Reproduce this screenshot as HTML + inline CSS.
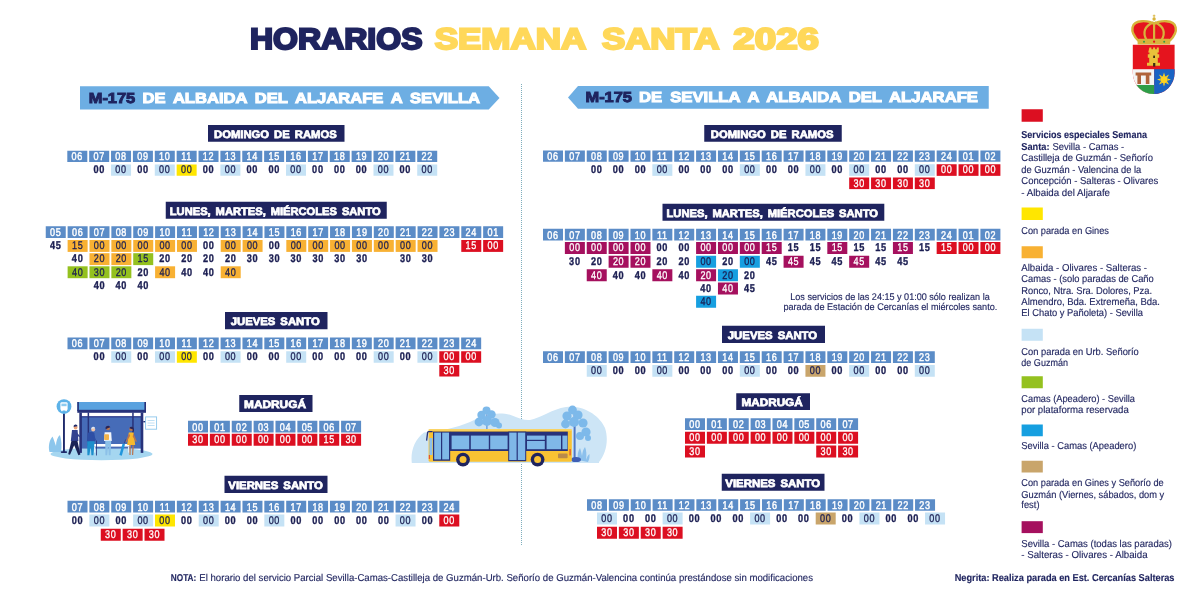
<!DOCTYPE html>
<html lang="es"><head><meta charset="utf-8"><title>Horarios Semana Santa 2026</title>
<style>
html,body{margin:0;padding:0;background:#fff;}
body{width:1200px;height:600px;overflow:hidden;position:relative;}
svg{position:absolute;left:0;top:0;display:block;}
text{font-family:"Liberation Sans",sans-serif;text-rendering:geometricPrecision;}
.b{word-spacing:3px;stroke-width:1.0px;stroke:#fff;}
.b.bn{stroke:#1f245f}
.t{stroke:#fff;stroke-width:.75px;word-spacing:1.8px}
.big{stroke:#1f245f;stroke-width:2.2px;stroke-linejoin:miter;}
.big.y{stroke:#ffd85a}
.h{stroke:#fff;stroke-width:.45px;letter-spacing:.8px}
.d{stroke-width:.35px;letter-spacing:.8px}
.dr{stroke-width:.3px;letter-spacing:.8px}
.n{stroke:#1f245f;stroke-width:.15px}
</style></head><body>
<svg width="1200" height="600" viewBox="0 0 1200 600">
<line x1="521.5" y1="84" x2="521.5" y2="545" stroke="#7eaebd" stroke-width="1" stroke-dasharray="1 1"/>
<!-- bus stop illustration -->
<g id="busstop">
<ellipse cx="101.5" cy="454" rx="51" ry="6.2" fill="#a5d6f0"/>
<path d="M49.5,452 C48,446 49.5,440 52.5,436.5 C54,440 55,443 56,446 C56,441 57.5,437 60,435 C61.5,440 62,446 61,452 Z" fill="#8cc6ec"/>
<rect x="63" y="413" width="1.9" height="39.5" fill="#1f2a6b"/>
<rect x="60.8" y="451.2" width="6.3" height="1.8" rx="0.9" fill="#1f2a6b"/>
<circle cx="64" cy="406.6" r="7.4" fill="#5cb2e8"/>
<rect x="60.4" y="402.2" width="7.2" height="8.2" rx="1.4" fill="#fff"/>
<rect x="61.4" y="403.6" width="5.2" height="2.6" fill="#8ccbf0"/>
<rect x="61.2" y="410" width="1.4" height="1.2" fill="#fff"/><rect x="65.4" y="410" width="1.4" height="1.2" fill="#fff"/>
<!-- shelter -->
<rect x="80" y="416" width="62.7" height="32.6" fill="#466cb8"/>
<rect x="80" y="416" width="62.7" height="1.5" fill="#2f3f8f"/>
<rect x="80" y="412.5" width="62.7" height="3.6" fill="#fff"/>
<rect x="77.3" y="402" width="68.7" height="8.4" fill="#5aa2df"/>
<rect x="77.3" y="409.8" width="68.7" height="3" fill="#27327a"/>
<rect x="77.3" y="402" width="1.6" height="9" fill="#27327a"/><rect x="144.4" y="402" width="1.6" height="9" fill="#27327a"/>
<rect x="79.3" y="412.5" width="2.6" height="40.4" fill="#27327a"/>
<rect x="140.7" y="412.5" width="2.6" height="40.4" fill="#27327a"/>
<rect x="87.6" y="412.5" width="1.5" height="33" fill="#27327a"/>
<rect x="132.2" y="412.5" width="1.5" height="33" fill="#27327a"/>
<rect x="92.7" y="444" width="38" height="2.6" fill="#fff"/>
<rect x="94" y="446.6" width="1.4" height="6" fill="#dfeefa"/><rect x="128" y="446.6" width="1.4" height="6" fill="#dfeefa"/>
<!-- timetable sign -->
<rect x="143.3" y="421" width="3" height="1.4" fill="#27327a"/>
<rect x="145.6" y="416.9" width="11" height="12.3" fill="#fff" stroke="#8cc6ec" stroke-width="0.9"/>
<path d="M147.6,420.5h7M147.6,423h7M147.6,425.5h7" stroke="#b9dcf3" stroke-width="0.9"/>
<g transform="translate(0 1.9)">
<!-- man 1 navy suit -->
<circle cx="75.6" cy="425.6" r="1.9" fill="#e9a37b"/><path d="M73.6,425 a2,2 0 0 1 4,-0.6 l-2,0.2z" fill="#1f2a6b"/>
<path d="M72,428.2 h5.6 l0.8,11 h-7.6z" fill="#33418f"/>
<path d="M77,431 l3.4,3.4 l-0.8,1 l-3.4,-2.4z" fill="#33418f"/>
<path d="M71.4,439 l-3.2,13.4 l1.8,0.5 l4.2,-9.5 l4.2,9.9 l2,-0.6 l-3,-13.8z" fill="#1b2255"/>
<!-- old man -->
<circle cx="93.2" cy="427.6" r="2" fill="#f1c5a8"/><path d="M91.2,427.2 a2.1,2.1 0 0 1 4.1,-0.8z" fill="#dfe7f2"/>
<path d="M88,431 c1,-1.2 5.4,-1.4 6.4,0 l0.8,8.6 h-8.4z" fill="#2e4fa5"/>
<path d="M94,433 l2,5.2 l-1.2,0.6 l-2.2,-4.4z" fill="#2e4fa5"/>
<path d="M87.2,439.4 h7.4 l-1.2,14 h-2 l-0.6,-9.6 l-1.4,9.6 h-2z" fill="#1d8fcc"/>
<rect x="96" y="438.6" width="0.8" height="15" fill="#27327a"/>
<!-- woman with bag -->
<circle cx="108" cy="426.4" r="2" fill="#b87550"/><path d="M105.8,427.4 a2.4,2.4 0 0 1 4.6,-2 l-2.2,0.6z" fill="#2a2456"/>
<path d="M104.6,430.4 h6.6 l0.6,8.6 h-7.8z" fill="#f2f5fa"/>
<rect x="104.2" y="432.4" width="4.8" height="5.8" rx="0.8" fill="#f1b24a"/>
<path d="M105.2,438.8 h6 l-0.6,14.6 h-1.8 l-0.6,-10 l-1,10 h-1.8z" fill="#8cc0e8"/>
<!-- woman yellow dress -->
<circle cx="131.2" cy="427" r="2" fill="#b87550"/><path d="M129.4,426.4 a2.3,2.3 0 0 1 4.4,0.4 l0.2,3.2 l-1.6,-2.6z" fill="#2a2456"/>
<path d="M128.8,430.6 h4.8 l1.6,12.6 h-8z" fill="#f7b92e"/>
<path d="M129,431.4 l-3.4,8.4 l0.9,0.5 l3.6,-6.4zM133.4,431.4 l3.4,8.2 l-0.9,0.5 l-3.2,-5.6z" fill="#b87550"/>
<path d="M129.4,443 h1.4 l-0.2,10 h-1.2zM132.4,443 h1.4 l-0.6,10 h-1.2z" fill="#b87550"/>
<path d="M122.6,441.6 l2.4,0.8 l-3.2,11.4 l-2.4,-0.8z" fill="#2196dc"/>
<path d="M124.2,441.4 l1.6,-4" stroke="#27327a" stroke-width="0.6"/>
</g>
</g>
<!-- bus illustration -->
<g id="bus">
<path d="M411.8,463 C410.5,452 414,440 424,432.5 C440,431 456,428 470,422 C484,414 500,411 512,415.5 C519,418 524,420.5 530,420 C540,418.5 552,409 566,407 C584,404.5 600,416 605,428 C609,440 606,454 599,462 L599,463 Z" fill="#cde5f6"/>
<!-- left tree -->
<rect x="486.3" y="412" width="1.2" height="18" fill="#5c8fd0"/>
<g fill="#7db9ea"><circle cx="486.5" cy="410.5" r="4"/><circle cx="481.5" cy="415" r="4.2"/><circle cx="491.5" cy="414.5" r="4.2"/><circle cx="479" cy="422" r="4.4"/><circle cx="487" cy="421" r="5"/><circle cx="495" cy="422.5" r="4.6"/><circle cx="499" cy="425.5" r="3"/></g>
<!-- right tree -->
<rect x="573.6" y="414" width="2" height="48" fill="#4f77c4"/>
<g fill="#7db9ea"><circle cx="572.5" cy="410" r="4.4"/><circle cx="567" cy="416" r="4.6"/><circle cx="578" cy="415" r="4.6"/><circle cx="565.5" cy="424" r="4.4"/><circle cx="574" cy="422" r="5"/><circle cx="583" cy="423" r="4.6"/><circle cx="586" cy="432" r="4.6"/><circle cx="580" cy="436" r="4"/><circle cx="588" cy="438" r="3"/></g>
<path d="M578,460 c-1,-5 0,-9 2,-12 c1,3 1.6,5 2,8 c0.4,-4 1.4,-7 3,-9 c1.4,3 1.8,8 1,13 c1,-3 2,-5 3.4,-6 c0.4,3 0,5 -1.4,8z" fill="#8cc0ec"/>
<ellipse cx="576" cy="459.5" rx="5" ry="2.6" fill="#3f5fb5"/>
<!-- body -->
<rect x="428.6" y="429.2" width="143.2" height="32.6" rx="1.6" fill="#f9c233"/>
<rect x="428.6" y="429.2" width="143.2" height="1.6" fill="#fbd567"/>
<path d="M432.6,431.6 h-4 a1,1 0 0 0 -1,1 l-1,8" fill="none" stroke="#27327a" stroke-width="1.3"/>
<rect x="429.4" y="438" width="3" height="17" fill="#8cc0ec"/>
<rect x="450" y="431.6" width="117.8" height="19.4" fill="#27327a"/>
<g fill="#7fb8e8">
<rect x="451.6" y="435.6" width="17.6" height="13.6"/><rect x="470.8" y="435.6" width="18" height="13.6"/><rect x="490.2" y="435.6" width="17.4" height="13.6"/>
<rect x="527" y="435.6" width="17.8" height="4.2"/><rect x="527" y="441" width="17.8" height="8.2"/><rect x="546.6" y="435.6" width="14.4" height="13.6"/><rect x="562.4" y="435.6" width="5" height="13.6"/>
</g>
<rect x="433" y="431.6" width="17.2" height="29.2" fill="#27327a"/>
<rect x="434.2" y="432.6" width="6.8" height="26.8" fill="#7fb8e8"/><rect x="442.2" y="432.6" width="6.8" height="26.8" fill="#7fb8e8"/>
<rect x="508.2" y="431.6" width="18" height="29.6" fill="#27327a"/>
<rect x="509.2" y="432.6" width="7.4" height="27.4" fill="#7fb8e8"/><rect x="517.8" y="432.6" width="7.4" height="27.4" fill="#7fb8e8"/>
<rect x="558" y="453.6" width="9.6" height="4.6" rx="0.8" fill="#b98a4a"/>
<rect x="569.4" y="449" width="1.4" height="6.4" fill="#e8562a"/>
<rect x="428.8" y="455" width="1.2" height="4" fill="#e8562a"/>
<circle cx="463" cy="459.6" r="6.9" fill="#1f245f"/><circle cx="463" cy="459.6" r="3.5" fill="#f9c233"/>
<circle cx="537.6" cy="459.6" r="6.9" fill="#1f245f"/><circle cx="537.6" cy="459.6" r="3.5" fill="#f9c233"/>
</g>
<!-- coat of arms -->
<g id="escudo">
<path d="M1132.8,44.7 h41.8 v28.4 a20.9,20.9 0 0 1 -41.8,0z" fill="#e5141e"/>
<clipPath id="shc"><path d="M1132.8,44.7 h41.8 v28.4 a20.9,20.9 0 0 1 -41.8,0z"/></clipPath>
<g clip-path="url(#shc)">
<rect x="1132.5" y="69.2" width="21.7" height="26" fill="#f4f4f4"/>
<rect x="1132.5" y="85" width="21.7" height="10" fill="#2f9e48"/>
<rect x="1154.2" y="69.2" width="21" height="26" fill="#1a63c4"/>
<path d="M1135.6,72.4 h15.6 v3.2 h-15.6z M1137.4,75.6 h3.6 v8.4 h-3.6z M1145.8,75.6 h3.6 v8.4 h-3.6z" fill="#b0623a"/>
<circle cx="1164" cy="79.6" r="3.6" fill="#ffd21f"/>
<path d="M1164,72.6 l1.1,3.4 h-2.2z M1164,86.6 l1.1,-3.4 h-2.2z M1157,79.6 l3.4,-1.1 v2.2z M1171,79.6 l-3.4,-1.1 v2.2z M1159,74.6 l3.2,1.7 l-1.5,1.5z M1169,74.6 l-3.2,1.7 l1.5,1.5z M1159,84.6 l3.2,-1.7 l-1.5,-1.5z M1169,84.6 l-3.2,-1.7 l1.5,-1.5z" fill="#ffd21f"/>
</g>
<path d="M1149.4,47.6 h2 v1.6 h1.7 v-1.6 h2 v1.6 h1.7 v-1.6 h2 v5 h-1.2 v1.6 h1.6 v3.6 h-1.4 v5 h2.2 v3 h-13 v-3 h2.2 v-5 h-1.4 v-3.6 h1.6 v-1.6 h-1.2z" fill="#e9c13a"/>
<rect x="1153.1" y="63" width="2.2" height="3.6" fill="#3a2a10"/><rect x="1153.2" y="55.6" width="1.8" height="2.4" fill="#3a2a10"/>
<!-- crown -->
<path d="M1138.2,40.5 C1129,31 1131,21.5 1142,21.2 C1147,21 1151.5,22 1154.1,24 C1156.7,22 1161.2,21 1166.2,21.2 C1177.2,21.5 1179.2,31 1170,40.5 Z" fill="#e5141e" stroke="#d8b43c" stroke-width="2.4" stroke-linejoin="round"/>
<path d="M1154.1,22 v18 M1146.6,40 C1142.5,33 1144,26 1153.6,22.4 M1161.6,40 C1165.7,33 1164.2,26 1154.6,22.4" fill="none" stroke="#d8b43c" stroke-width="2.2"/>
<rect x="1137.6" y="38.8" width="32.6" height="5.8" rx="1.2" fill="#d8b43c"/>
<g fill="#2f9e48"><circle cx="1144" cy="41.7" r="1"/><circle cx="1164.2" cy="41.7" r="1"/></g><circle cx="1154.1" cy="41.7" r="1.1" fill="#e5141e"/>
<circle cx="1154.1" cy="19" r="1.7" fill="#d8b43c"/><path d="M1154.1,14.6 v3 M1152.8,15.8 h2.6" stroke="#d8b43c" stroke-width="0.9"/>
</g>

<text x="250.00" y="49.00" font-size="29.8" fill="#1f245f" font-weight="bold" text-anchor="start" textLength="172.50" lengthAdjust="spacingAndGlyphs" class="big">HORARIOS</text>
<text x="434.70" y="49.00" font-size="29.8" fill="#ffd85a" font-weight="bold" text-anchor="start" textLength="151.60" lengthAdjust="spacingAndGlyphs" class="big y">SEMANA</text>
<text x="602.00" y="49.00" font-size="29.8" fill="#ffd85a" font-weight="bold" text-anchor="start" textLength="117.30" lengthAdjust="spacingAndGlyphs" class="big y">SANTA</text>
<text x="733.30" y="49.00" font-size="29.8" fill="#ffd85a" font-weight="bold" text-anchor="start" textLength="85.70" lengthAdjust="spacingAndGlyphs" class="big y">2026</text>
<polygon points="80,86.25 488.75,86.25 499.5,97.9 488.75,109.5 80,109.5" fill="#6daee3"/>
<text x="88.75" y="103.30" font-size="14.7" fill="#1f245f" font-weight="bold" text-anchor="start" textLength="46.50" lengthAdjust="spacingAndGlyphs" class="b bn">M-175</text>
<text x="142.50" y="103.30" font-size="14.7" fill="#fff" font-weight="bold" text-anchor="start" textLength="337.50" lengthAdjust="spacingAndGlyphs" class="b">DE ALBAIDA DEL ALJARAFE A SEVILLA</text>
<polygon points="988.75,86 578,86 568,97.4 578,108.75 988.75,108.75" fill="#6daee3"/>
<text x="585.50" y="102.30" font-size="14.7" fill="#1f245f" font-weight="bold" text-anchor="start" textLength="46.50" lengthAdjust="spacingAndGlyphs" class="b bn">M-175</text>
<text x="639.00" y="102.30" font-size="14.7" fill="#fff" font-weight="bold" text-anchor="start" textLength="339.00" lengthAdjust="spacingAndGlyphs" class="b">DE SEVILLA A ALBAIDA DEL ALJARAFE</text>
<rect x="208.00" y="125.00" width="136.50" height="16.75" fill="#1f245f" />
<text x="214.05" y="137.83" font-size="10.9" fill="#fff" font-weight="bold" text-anchor="start" textLength="122.65" lengthAdjust="spacingAndGlyphs" class="t">DOMINGO DE RAMOS</text>
<rect x="67.30" y="150.75" width="20.00" height="11.25" fill="#5b8cc7" />
<text transform="translate(77.30 160.32) scale(0.81 1)" font-size="11.2" fill="#fff" font-weight="normal" text-anchor="middle" class="h">06</text>
<rect x="89.17" y="150.75" width="20.00" height="11.25" fill="#5b8cc7" />
<text transform="translate(99.17 160.32) scale(0.81 1)" font-size="11.2" fill="#fff" font-weight="normal" text-anchor="middle" class="h">07</text>
<rect x="111.04" y="150.75" width="20.00" height="11.25" fill="#5b8cc7" />
<text transform="translate(121.04 160.32) scale(0.81 1)" font-size="11.2" fill="#fff" font-weight="normal" text-anchor="middle" class="h">08</text>
<rect x="132.91" y="150.75" width="20.00" height="11.25" fill="#5b8cc7" />
<text transform="translate(142.91 160.32) scale(0.81 1)" font-size="11.2" fill="#fff" font-weight="normal" text-anchor="middle" class="h">09</text>
<rect x="154.78" y="150.75" width="20.00" height="11.25" fill="#5b8cc7" />
<text transform="translate(164.78 160.32) scale(0.81 1)" font-size="11.2" fill="#fff" font-weight="normal" text-anchor="middle" class="h">10</text>
<rect x="176.65" y="150.75" width="20.00" height="11.25" fill="#5b8cc7" />
<text transform="translate(186.65 160.32) scale(0.81 1)" font-size="11.2" fill="#fff" font-weight="normal" text-anchor="middle" class="h">11</text>
<rect x="198.52" y="150.75" width="20.00" height="11.25" fill="#5b8cc7" />
<text transform="translate(208.52 160.32) scale(0.81 1)" font-size="11.2" fill="#fff" font-weight="normal" text-anchor="middle" class="h">12</text>
<rect x="220.39" y="150.75" width="20.00" height="11.25" fill="#5b8cc7" />
<text transform="translate(230.39 160.32) scale(0.81 1)" font-size="11.2" fill="#fff" font-weight="normal" text-anchor="middle" class="h">13</text>
<rect x="242.26" y="150.75" width="20.00" height="11.25" fill="#5b8cc7" />
<text transform="translate(252.26 160.32) scale(0.81 1)" font-size="11.2" fill="#fff" font-weight="normal" text-anchor="middle" class="h">14</text>
<rect x="264.13" y="150.75" width="20.00" height="11.25" fill="#5b8cc7" />
<text transform="translate(274.13 160.32) scale(0.81 1)" font-size="11.2" fill="#fff" font-weight="normal" text-anchor="middle" class="h">15</text>
<rect x="286.00" y="150.75" width="20.00" height="11.25" fill="#5b8cc7" />
<text transform="translate(296.00 160.32) scale(0.81 1)" font-size="11.2" fill="#fff" font-weight="normal" text-anchor="middle" class="h">16</text>
<rect x="307.87" y="150.75" width="20.00" height="11.25" fill="#5b8cc7" />
<text transform="translate(317.87 160.32) scale(0.81 1)" font-size="11.2" fill="#fff" font-weight="normal" text-anchor="middle" class="h">17</text>
<rect x="329.74" y="150.75" width="20.00" height="11.25" fill="#5b8cc7" />
<text transform="translate(339.74 160.32) scale(0.81 1)" font-size="11.2" fill="#fff" font-weight="normal" text-anchor="middle" class="h">18</text>
<rect x="351.61" y="150.75" width="20.00" height="11.25" fill="#5b8cc7" />
<text transform="translate(361.61 160.32) scale(0.81 1)" font-size="11.2" fill="#fff" font-weight="normal" text-anchor="middle" class="h">19</text>
<rect x="373.48" y="150.75" width="20.00" height="11.25" fill="#5b8cc7" />
<text transform="translate(383.48 160.32) scale(0.81 1)" font-size="11.2" fill="#fff" font-weight="normal" text-anchor="middle" class="h">20</text>
<rect x="395.35" y="150.75" width="20.00" height="11.25" fill="#5b8cc7" />
<text transform="translate(405.35 160.32) scale(0.81 1)" font-size="11.2" fill="#fff" font-weight="normal" text-anchor="middle" class="h">21</text>
<rect x="417.22" y="150.75" width="20.00" height="11.25" fill="#5b8cc7" />
<text transform="translate(427.22 160.32) scale(0.81 1)" font-size="11.2" fill="#fff" font-weight="normal" text-anchor="middle" class="h">22</text>
<text transform="translate(99.17 173.43) scale(0.82 1)" font-size="11.2" fill="#1b1e52" font-weight="bold" text-anchor="middle" class="d" stroke="#1b1e52">00</text>
<rect x="111.04" y="164.50" width="20.00" height="11.25" fill="#c5e2f5" />
<text transform="translate(121.04 173.43) scale(0.81 1)" font-size="11.2" fill="#1b1e52" font-weight="normal" text-anchor="middle" class="dr" stroke="#1b1e52">00</text>
<text transform="translate(142.91 173.43) scale(0.82 1)" font-size="11.2" fill="#1b1e52" font-weight="bold" text-anchor="middle" class="d" stroke="#1b1e52">00</text>
<rect x="154.78" y="164.50" width="20.00" height="11.25" fill="#c5e2f5" />
<text transform="translate(164.78 173.43) scale(0.81 1)" font-size="11.2" fill="#1b1e52" font-weight="normal" text-anchor="middle" class="dr" stroke="#1b1e52">00</text>
<rect x="176.65" y="164.50" width="20.00" height="11.25" fill="#ffe600" />
<text transform="translate(186.65 173.43) scale(0.81 1)" font-size="11.2" fill="#1b1e52" font-weight="normal" text-anchor="middle" class="dr" stroke="#1b1e52">00</text>
<text transform="translate(208.52 173.43) scale(0.82 1)" font-size="11.2" fill="#1b1e52" font-weight="bold" text-anchor="middle" class="d" stroke="#1b1e52">00</text>
<rect x="220.39" y="164.50" width="20.00" height="11.25" fill="#c5e2f5" />
<text transform="translate(230.39 173.43) scale(0.81 1)" font-size="11.2" fill="#1b1e52" font-weight="normal" text-anchor="middle" class="dr" stroke="#1b1e52">00</text>
<text transform="translate(252.26 173.43) scale(0.82 1)" font-size="11.2" fill="#1b1e52" font-weight="bold" text-anchor="middle" class="d" stroke="#1b1e52">00</text>
<text transform="translate(274.13 173.43) scale(0.82 1)" font-size="11.2" fill="#1b1e52" font-weight="bold" text-anchor="middle" class="d" stroke="#1b1e52">00</text>
<rect x="286.00" y="164.50" width="20.00" height="11.25" fill="#c5e2f5" />
<text transform="translate(296.00 173.43) scale(0.81 1)" font-size="11.2" fill="#1b1e52" font-weight="normal" text-anchor="middle" class="dr" stroke="#1b1e52">00</text>
<text transform="translate(317.87 173.43) scale(0.82 1)" font-size="11.2" fill="#1b1e52" font-weight="bold" text-anchor="middle" class="d" stroke="#1b1e52">00</text>
<text transform="translate(339.74 173.43) scale(0.82 1)" font-size="11.2" fill="#1b1e52" font-weight="bold" text-anchor="middle" class="d" stroke="#1b1e52">00</text>
<text transform="translate(361.61 173.43) scale(0.82 1)" font-size="11.2" fill="#1b1e52" font-weight="bold" text-anchor="middle" class="d" stroke="#1b1e52">00</text>
<rect x="373.48" y="164.50" width="20.00" height="11.25" fill="#c5e2f5" />
<text transform="translate(383.48 173.43) scale(0.81 1)" font-size="11.2" fill="#1b1e52" font-weight="normal" text-anchor="middle" class="dr" stroke="#1b1e52">00</text>
<text transform="translate(405.35 173.43) scale(0.82 1)" font-size="11.2" fill="#1b1e52" font-weight="bold" text-anchor="middle" class="d" stroke="#1b1e52">00</text>
<rect x="417.22" y="164.50" width="20.00" height="11.25" fill="#c5e2f5" />
<text transform="translate(427.22 173.43) scale(0.81 1)" font-size="11.2" fill="#1b1e52" font-weight="normal" text-anchor="middle" class="dr" stroke="#1b1e52">00</text>
<rect x="165.75" y="201.75" width="221.00" height="17.00" fill="#1f245f" />
<text x="169.80" y="214.70" font-size="10.9" fill="#fff" font-weight="bold" text-anchor="start" textLength="210.90" lengthAdjust="spacingAndGlyphs" class="t">LUNES, MARTES, MIÉRCOLES SANTO</text>
<rect x="45.75" y="226.25" width="20.00" height="11.75" fill="#5b8cc7" />
<text transform="translate(55.75 236.07) scale(0.81 1)" font-size="11.2" fill="#fff" font-weight="normal" text-anchor="middle" class="h">05</text>
<rect x="67.62" y="226.25" width="20.00" height="11.75" fill="#5b8cc7" />
<text transform="translate(77.62 236.07) scale(0.81 1)" font-size="11.2" fill="#fff" font-weight="normal" text-anchor="middle" class="h">06</text>
<rect x="89.49" y="226.25" width="20.00" height="11.75" fill="#5b8cc7" />
<text transform="translate(99.49 236.07) scale(0.81 1)" font-size="11.2" fill="#fff" font-weight="normal" text-anchor="middle" class="h">07</text>
<rect x="111.36" y="226.25" width="20.00" height="11.75" fill="#5b8cc7" />
<text transform="translate(121.36 236.07) scale(0.81 1)" font-size="11.2" fill="#fff" font-weight="normal" text-anchor="middle" class="h">08</text>
<rect x="133.23" y="226.25" width="20.00" height="11.75" fill="#5b8cc7" />
<text transform="translate(143.23 236.07) scale(0.81 1)" font-size="11.2" fill="#fff" font-weight="normal" text-anchor="middle" class="h">09</text>
<rect x="155.10" y="226.25" width="20.00" height="11.75" fill="#5b8cc7" />
<text transform="translate(165.10 236.07) scale(0.81 1)" font-size="11.2" fill="#fff" font-weight="normal" text-anchor="middle" class="h">10</text>
<rect x="176.97" y="226.25" width="20.00" height="11.75" fill="#5b8cc7" />
<text transform="translate(186.97 236.07) scale(0.81 1)" font-size="11.2" fill="#fff" font-weight="normal" text-anchor="middle" class="h">11</text>
<rect x="198.84" y="226.25" width="20.00" height="11.75" fill="#5b8cc7" />
<text transform="translate(208.84 236.07) scale(0.81 1)" font-size="11.2" fill="#fff" font-weight="normal" text-anchor="middle" class="h">12</text>
<rect x="220.71" y="226.25" width="20.00" height="11.75" fill="#5b8cc7" />
<text transform="translate(230.71 236.07) scale(0.81 1)" font-size="11.2" fill="#fff" font-weight="normal" text-anchor="middle" class="h">13</text>
<rect x="242.58" y="226.25" width="20.00" height="11.75" fill="#5b8cc7" />
<text transform="translate(252.58 236.07) scale(0.81 1)" font-size="11.2" fill="#fff" font-weight="normal" text-anchor="middle" class="h">14</text>
<rect x="264.45" y="226.25" width="20.00" height="11.75" fill="#5b8cc7" />
<text transform="translate(274.45 236.07) scale(0.81 1)" font-size="11.2" fill="#fff" font-weight="normal" text-anchor="middle" class="h">15</text>
<rect x="286.32" y="226.25" width="20.00" height="11.75" fill="#5b8cc7" />
<text transform="translate(296.32 236.07) scale(0.81 1)" font-size="11.2" fill="#fff" font-weight="normal" text-anchor="middle" class="h">16</text>
<rect x="308.19" y="226.25" width="20.00" height="11.75" fill="#5b8cc7" />
<text transform="translate(318.19 236.07) scale(0.81 1)" font-size="11.2" fill="#fff" font-weight="normal" text-anchor="middle" class="h">17</text>
<rect x="330.06" y="226.25" width="20.00" height="11.75" fill="#5b8cc7" />
<text transform="translate(340.06 236.07) scale(0.81 1)" font-size="11.2" fill="#fff" font-weight="normal" text-anchor="middle" class="h">18</text>
<rect x="351.93" y="226.25" width="20.00" height="11.75" fill="#5b8cc7" />
<text transform="translate(361.93 236.07) scale(0.81 1)" font-size="11.2" fill="#fff" font-weight="normal" text-anchor="middle" class="h">19</text>
<rect x="373.80" y="226.25" width="20.00" height="11.75" fill="#5b8cc7" />
<text transform="translate(383.80 236.07) scale(0.81 1)" font-size="11.2" fill="#fff" font-weight="normal" text-anchor="middle" class="h">20</text>
<rect x="395.67" y="226.25" width="20.00" height="11.75" fill="#5b8cc7" />
<text transform="translate(405.67 236.07) scale(0.81 1)" font-size="11.2" fill="#fff" font-weight="normal" text-anchor="middle" class="h">21</text>
<rect x="417.54" y="226.25" width="20.00" height="11.75" fill="#5b8cc7" />
<text transform="translate(427.54 236.07) scale(0.81 1)" font-size="11.2" fill="#fff" font-weight="normal" text-anchor="middle" class="h">22</text>
<rect x="439.41" y="226.25" width="20.00" height="11.75" fill="#5b8cc7" />
<text transform="translate(449.41 236.07) scale(0.81 1)" font-size="11.2" fill="#fff" font-weight="normal" text-anchor="middle" class="h">23</text>
<rect x="461.28" y="226.25" width="20.00" height="11.75" fill="#5b8cc7" />
<text transform="translate(471.28 236.07) scale(0.81 1)" font-size="11.2" fill="#fff" font-weight="normal" text-anchor="middle" class="h">24</text>
<rect x="483.15" y="226.25" width="20.00" height="11.75" fill="#5b8cc7" />
<text transform="translate(493.15 236.07) scale(0.81 1)" font-size="11.2" fill="#fff" font-weight="normal" text-anchor="middle" class="h">01</text>
<text transform="translate(55.75 249.25) scale(0.82 1)" font-size="11.2" fill="#1b1e52" font-weight="bold" text-anchor="middle" class="d" stroke="#1b1e52">45</text>
<rect x="67.62" y="240.00" width="20.00" height="11.90" fill="#f8b133" />
<text transform="translate(77.62 249.25) scale(0.81 1)" font-size="11.2" fill="#1b1e52" font-weight="normal" text-anchor="middle" class="dr" stroke="#1b1e52">15</text>
<rect x="89.49" y="240.00" width="20.00" height="11.90" fill="#f8b133" />
<text transform="translate(99.49 249.25) scale(0.81 1)" font-size="11.2" fill="#1b1e52" font-weight="normal" text-anchor="middle" class="dr" stroke="#1b1e52">00</text>
<rect x="111.36" y="240.00" width="20.00" height="11.90" fill="#f8b133" />
<text transform="translate(121.36 249.25) scale(0.81 1)" font-size="11.2" fill="#1b1e52" font-weight="normal" text-anchor="middle" class="dr" stroke="#1b1e52">00</text>
<rect x="133.23" y="240.00" width="20.00" height="11.90" fill="#f8b133" />
<text transform="translate(143.23 249.25) scale(0.81 1)" font-size="11.2" fill="#1b1e52" font-weight="normal" text-anchor="middle" class="dr" stroke="#1b1e52">00</text>
<rect x="155.10" y="240.00" width="20.00" height="11.90" fill="#f8b133" />
<text transform="translate(165.10 249.25) scale(0.81 1)" font-size="11.2" fill="#1b1e52" font-weight="normal" text-anchor="middle" class="dr" stroke="#1b1e52">00</text>
<rect x="176.97" y="240.00" width="20.00" height="11.90" fill="#f8b133" />
<text transform="translate(186.97 249.25) scale(0.81 1)" font-size="11.2" fill="#1b1e52" font-weight="normal" text-anchor="middle" class="dr" stroke="#1b1e52">00</text>
<text transform="translate(208.84 249.25) scale(0.82 1)" font-size="11.2" fill="#1b1e52" font-weight="bold" text-anchor="middle" class="d" stroke="#1b1e52">00</text>
<rect x="220.71" y="240.00" width="20.00" height="11.90" fill="#f8b133" />
<text transform="translate(230.71 249.25) scale(0.81 1)" font-size="11.2" fill="#1b1e52" font-weight="normal" text-anchor="middle" class="dr" stroke="#1b1e52">00</text>
<rect x="242.58" y="240.00" width="20.00" height="11.90" fill="#f8b133" />
<text transform="translate(252.58 249.25) scale(0.81 1)" font-size="11.2" fill="#1b1e52" font-weight="normal" text-anchor="middle" class="dr" stroke="#1b1e52">00</text>
<text transform="translate(274.45 249.25) scale(0.82 1)" font-size="11.2" fill="#1b1e52" font-weight="bold" text-anchor="middle" class="d" stroke="#1b1e52">00</text>
<rect x="286.32" y="240.00" width="20.00" height="11.90" fill="#f8b133" />
<text transform="translate(296.32 249.25) scale(0.81 1)" font-size="11.2" fill="#1b1e52" font-weight="normal" text-anchor="middle" class="dr" stroke="#1b1e52">00</text>
<rect x="308.19" y="240.00" width="20.00" height="11.90" fill="#f8b133" />
<text transform="translate(318.19 249.25) scale(0.81 1)" font-size="11.2" fill="#1b1e52" font-weight="normal" text-anchor="middle" class="dr" stroke="#1b1e52">00</text>
<rect x="330.06" y="240.00" width="20.00" height="11.90" fill="#f8b133" />
<text transform="translate(340.06 249.25) scale(0.81 1)" font-size="11.2" fill="#1b1e52" font-weight="normal" text-anchor="middle" class="dr" stroke="#1b1e52">00</text>
<rect x="351.93" y="240.00" width="20.00" height="11.90" fill="#f8b133" />
<text transform="translate(361.93 249.25) scale(0.81 1)" font-size="11.2" fill="#1b1e52" font-weight="normal" text-anchor="middle" class="dr" stroke="#1b1e52">00</text>
<rect x="373.80" y="240.00" width="20.00" height="11.90" fill="#f8b133" />
<text transform="translate(383.80 249.25) scale(0.81 1)" font-size="11.2" fill="#1b1e52" font-weight="normal" text-anchor="middle" class="dr" stroke="#1b1e52">00</text>
<rect x="395.67" y="240.00" width="20.00" height="11.90" fill="#f8b133" />
<text transform="translate(405.67 249.25) scale(0.81 1)" font-size="11.2" fill="#1b1e52" font-weight="normal" text-anchor="middle" class="dr" stroke="#1b1e52">00</text>
<rect x="417.54" y="240.00" width="20.00" height="11.90" fill="#f8b133" />
<text transform="translate(427.54 249.25) scale(0.81 1)" font-size="11.2" fill="#1b1e52" font-weight="normal" text-anchor="middle" class="dr" stroke="#1b1e52">00</text>
<rect x="461.28" y="240.00" width="20.00" height="11.90" fill="#dc0f21" />
<text transform="translate(471.28 249.25) scale(0.81 1)" font-size="11.2" fill="#fff" font-weight="normal" text-anchor="middle" class="dr" stroke="#fff">15</text>
<rect x="483.15" y="240.00" width="20.00" height="11.90" fill="#dc0f21" />
<text transform="translate(493.15 249.25) scale(0.81 1)" font-size="11.2" fill="#fff" font-weight="normal" text-anchor="middle" class="dr" stroke="#fff">00</text>
<text transform="translate(77.62 262.45) scale(0.82 1)" font-size="11.2" fill="#1b1e52" font-weight="bold" text-anchor="middle" class="d" stroke="#1b1e52">40</text>
<rect x="89.49" y="253.20" width="20.00" height="11.90" fill="#f8b133" />
<text transform="translate(99.49 262.45) scale(0.81 1)" font-size="11.2" fill="#1b1e52" font-weight="normal" text-anchor="middle" class="dr" stroke="#1b1e52">20</text>
<rect x="111.36" y="253.20" width="20.00" height="11.90" fill="#f8b133" />
<text transform="translate(121.36 262.45) scale(0.81 1)" font-size="11.2" fill="#1b1e52" font-weight="normal" text-anchor="middle" class="dr" stroke="#1b1e52">20</text>
<rect x="133.23" y="253.20" width="20.00" height="11.90" fill="#94c11f" />
<text transform="translate(143.23 262.45) scale(0.81 1)" font-size="11.2" fill="#1b1e52" font-weight="normal" text-anchor="middle" class="dr" stroke="#1b1e52">15</text>
<text transform="translate(165.10 262.45) scale(0.82 1)" font-size="11.2" fill="#1b1e52" font-weight="bold" text-anchor="middle" class="d" stroke="#1b1e52">20</text>
<text transform="translate(186.97 262.45) scale(0.82 1)" font-size="11.2" fill="#1b1e52" font-weight="bold" text-anchor="middle" class="d" stroke="#1b1e52">20</text>
<text transform="translate(208.84 262.45) scale(0.82 1)" font-size="11.2" fill="#1b1e52" font-weight="bold" text-anchor="middle" class="d" stroke="#1b1e52">20</text>
<text transform="translate(230.71 262.45) scale(0.82 1)" font-size="11.2" fill="#1b1e52" font-weight="bold" text-anchor="middle" class="d" stroke="#1b1e52">20</text>
<text transform="translate(252.58 262.45) scale(0.82 1)" font-size="11.2" fill="#1b1e52" font-weight="bold" text-anchor="middle" class="d" stroke="#1b1e52">30</text>
<text transform="translate(274.45 262.45) scale(0.82 1)" font-size="11.2" fill="#1b1e52" font-weight="bold" text-anchor="middle" class="d" stroke="#1b1e52">30</text>
<text transform="translate(296.32 262.45) scale(0.82 1)" font-size="11.2" fill="#1b1e52" font-weight="bold" text-anchor="middle" class="d" stroke="#1b1e52">30</text>
<text transform="translate(318.19 262.45) scale(0.82 1)" font-size="11.2" fill="#1b1e52" font-weight="bold" text-anchor="middle" class="d" stroke="#1b1e52">30</text>
<text transform="translate(340.06 262.45) scale(0.82 1)" font-size="11.2" fill="#1b1e52" font-weight="bold" text-anchor="middle" class="d" stroke="#1b1e52">30</text>
<text transform="translate(361.93 262.45) scale(0.82 1)" font-size="11.2" fill="#1b1e52" font-weight="bold" text-anchor="middle" class="d" stroke="#1b1e52">30</text>
<text transform="translate(405.67 262.45) scale(0.82 1)" font-size="11.2" fill="#1b1e52" font-weight="bold" text-anchor="middle" class="d" stroke="#1b1e52">30</text>
<text transform="translate(427.54 262.45) scale(0.82 1)" font-size="11.2" fill="#1b1e52" font-weight="bold" text-anchor="middle" class="d" stroke="#1b1e52">30</text>
<rect x="67.62" y="266.30" width="20.00" height="11.90" fill="#94c11f" />
<text transform="translate(77.62 275.55) scale(0.81 1)" font-size="11.2" fill="#1b1e52" font-weight="normal" text-anchor="middle" class="dr" stroke="#1b1e52">40</text>
<rect x="89.49" y="266.30" width="20.00" height="11.90" fill="#94c11f" />
<text transform="translate(99.49 275.55) scale(0.81 1)" font-size="11.2" fill="#1b1e52" font-weight="normal" text-anchor="middle" class="dr" stroke="#1b1e52">30</text>
<rect x="111.36" y="266.30" width="20.00" height="11.90" fill="#94c11f" />
<text transform="translate(121.36 275.55) scale(0.81 1)" font-size="11.2" fill="#1b1e52" font-weight="normal" text-anchor="middle" class="dr" stroke="#1b1e52">20</text>
<text transform="translate(143.23 275.55) scale(0.82 1)" font-size="11.2" fill="#1b1e52" font-weight="bold" text-anchor="middle" class="d" stroke="#1b1e52">20</text>
<rect x="155.10" y="266.30" width="20.00" height="11.90" fill="#f8b133" />
<text transform="translate(165.10 275.55) scale(0.81 1)" font-size="11.2" fill="#1b1e52" font-weight="normal" text-anchor="middle" class="dr" stroke="#1b1e52">40</text>
<text transform="translate(186.97 275.55) scale(0.82 1)" font-size="11.2" fill="#1b1e52" font-weight="bold" text-anchor="middle" class="d" stroke="#1b1e52">40</text>
<text transform="translate(208.84 275.55) scale(0.82 1)" font-size="11.2" fill="#1b1e52" font-weight="bold" text-anchor="middle" class="d" stroke="#1b1e52">40</text>
<rect x="220.71" y="266.30" width="20.00" height="11.90" fill="#f8b133" />
<text transform="translate(230.71 275.55) scale(0.81 1)" font-size="11.2" fill="#1b1e52" font-weight="normal" text-anchor="middle" class="dr" stroke="#1b1e52">40</text>
<text transform="translate(99.49 288.65) scale(0.82 1)" font-size="11.2" fill="#1b1e52" font-weight="bold" text-anchor="middle" class="d" stroke="#1b1e52">40</text>
<text transform="translate(121.36 288.65) scale(0.82 1)" font-size="11.2" fill="#1b1e52" font-weight="bold" text-anchor="middle" class="d" stroke="#1b1e52">40</text>
<text transform="translate(143.23 288.65) scale(0.82 1)" font-size="11.2" fill="#1b1e52" font-weight="bold" text-anchor="middle" class="d" stroke="#1b1e52">40</text>
<rect x="225.00" y="312.00" width="102.50" height="17.25" fill="#1f245f" />
<text x="230.80" y="325.07" font-size="10.9" fill="#fff" font-weight="bold" text-anchor="start" textLength="88.90" lengthAdjust="spacingAndGlyphs" class="t">JUEVES SANTO</text>
<rect x="67.50" y="337.50" width="20.00" height="11.75" fill="#5b8cc7" />
<text transform="translate(77.50 347.32) scale(0.81 1)" font-size="11.2" fill="#fff" font-weight="normal" text-anchor="middle" class="h">06</text>
<rect x="89.37" y="337.50" width="20.00" height="11.75" fill="#5b8cc7" />
<text transform="translate(99.37 347.32) scale(0.81 1)" font-size="11.2" fill="#fff" font-weight="normal" text-anchor="middle" class="h">07</text>
<rect x="111.24" y="337.50" width="20.00" height="11.75" fill="#5b8cc7" />
<text transform="translate(121.24 347.32) scale(0.81 1)" font-size="11.2" fill="#fff" font-weight="normal" text-anchor="middle" class="h">08</text>
<rect x="133.11" y="337.50" width="20.00" height="11.75" fill="#5b8cc7" />
<text transform="translate(143.11 347.32) scale(0.81 1)" font-size="11.2" fill="#fff" font-weight="normal" text-anchor="middle" class="h">09</text>
<rect x="154.98" y="337.50" width="20.00" height="11.75" fill="#5b8cc7" />
<text transform="translate(164.98 347.32) scale(0.81 1)" font-size="11.2" fill="#fff" font-weight="normal" text-anchor="middle" class="h">10</text>
<rect x="176.85" y="337.50" width="20.00" height="11.75" fill="#5b8cc7" />
<text transform="translate(186.85 347.32) scale(0.81 1)" font-size="11.2" fill="#fff" font-weight="normal" text-anchor="middle" class="h">11</text>
<rect x="198.72" y="337.50" width="20.00" height="11.75" fill="#5b8cc7" />
<text transform="translate(208.72 347.32) scale(0.81 1)" font-size="11.2" fill="#fff" font-weight="normal" text-anchor="middle" class="h">12</text>
<rect x="220.59" y="337.50" width="20.00" height="11.75" fill="#5b8cc7" />
<text transform="translate(230.59 347.32) scale(0.81 1)" font-size="11.2" fill="#fff" font-weight="normal" text-anchor="middle" class="h">13</text>
<rect x="242.46" y="337.50" width="20.00" height="11.75" fill="#5b8cc7" />
<text transform="translate(252.46 347.32) scale(0.81 1)" font-size="11.2" fill="#fff" font-weight="normal" text-anchor="middle" class="h">14</text>
<rect x="264.33" y="337.50" width="20.00" height="11.75" fill="#5b8cc7" />
<text transform="translate(274.33 347.32) scale(0.81 1)" font-size="11.2" fill="#fff" font-weight="normal" text-anchor="middle" class="h">15</text>
<rect x="286.20" y="337.50" width="20.00" height="11.75" fill="#5b8cc7" />
<text transform="translate(296.20 347.32) scale(0.81 1)" font-size="11.2" fill="#fff" font-weight="normal" text-anchor="middle" class="h">16</text>
<rect x="308.07" y="337.50" width="20.00" height="11.75" fill="#5b8cc7" />
<text transform="translate(318.07 347.32) scale(0.81 1)" font-size="11.2" fill="#fff" font-weight="normal" text-anchor="middle" class="h">17</text>
<rect x="329.94" y="337.50" width="20.00" height="11.75" fill="#5b8cc7" />
<text transform="translate(339.94 347.32) scale(0.81 1)" font-size="11.2" fill="#fff" font-weight="normal" text-anchor="middle" class="h">18</text>
<rect x="351.81" y="337.50" width="20.00" height="11.75" fill="#5b8cc7" />
<text transform="translate(361.81 347.32) scale(0.81 1)" font-size="11.2" fill="#fff" font-weight="normal" text-anchor="middle" class="h">19</text>
<rect x="373.68" y="337.50" width="20.00" height="11.75" fill="#5b8cc7" />
<text transform="translate(383.68 347.32) scale(0.81 1)" font-size="11.2" fill="#fff" font-weight="normal" text-anchor="middle" class="h">20</text>
<rect x="395.55" y="337.50" width="20.00" height="11.75" fill="#5b8cc7" />
<text transform="translate(405.55 347.32) scale(0.81 1)" font-size="11.2" fill="#fff" font-weight="normal" text-anchor="middle" class="h">21</text>
<rect x="417.42" y="337.50" width="20.00" height="11.75" fill="#5b8cc7" />
<text transform="translate(427.42 347.32) scale(0.81 1)" font-size="11.2" fill="#fff" font-weight="normal" text-anchor="middle" class="h">22</text>
<rect x="439.29" y="337.50" width="20.00" height="11.75" fill="#5b8cc7" />
<text transform="translate(449.29 347.32) scale(0.81 1)" font-size="11.2" fill="#fff" font-weight="normal" text-anchor="middle" class="h">23</text>
<rect x="461.16" y="337.50" width="20.00" height="11.75" fill="#5b8cc7" />
<text transform="translate(471.16 347.32) scale(0.81 1)" font-size="11.2" fill="#fff" font-weight="normal" text-anchor="middle" class="h">24</text>
<text transform="translate(99.37 360.30) scale(0.82 1)" font-size="11.2" fill="#1b1e52" font-weight="bold" text-anchor="middle" class="d" stroke="#1b1e52">00</text>
<rect x="111.24" y="351.25" width="20.00" height="11.50" fill="#c5e2f5" />
<text transform="translate(121.24 360.30) scale(0.81 1)" font-size="11.2" fill="#1b1e52" font-weight="normal" text-anchor="middle" class="dr" stroke="#1b1e52">00</text>
<text transform="translate(143.11 360.30) scale(0.82 1)" font-size="11.2" fill="#1b1e52" font-weight="bold" text-anchor="middle" class="d" stroke="#1b1e52">00</text>
<rect x="154.98" y="351.25" width="20.00" height="11.50" fill="#c5e2f5" />
<text transform="translate(164.98 360.30) scale(0.81 1)" font-size="11.2" fill="#1b1e52" font-weight="normal" text-anchor="middle" class="dr" stroke="#1b1e52">00</text>
<rect x="176.85" y="351.25" width="20.00" height="11.50" fill="#ffe600" />
<text transform="translate(186.85 360.30) scale(0.81 1)" font-size="11.2" fill="#1b1e52" font-weight="normal" text-anchor="middle" class="dr" stroke="#1b1e52">00</text>
<text transform="translate(208.72 360.30) scale(0.82 1)" font-size="11.2" fill="#1b1e52" font-weight="bold" text-anchor="middle" class="d" stroke="#1b1e52">00</text>
<rect x="220.59" y="351.25" width="20.00" height="11.50" fill="#c5e2f5" />
<text transform="translate(230.59 360.30) scale(0.81 1)" font-size="11.2" fill="#1b1e52" font-weight="normal" text-anchor="middle" class="dr" stroke="#1b1e52">00</text>
<text transform="translate(252.46 360.30) scale(0.82 1)" font-size="11.2" fill="#1b1e52" font-weight="bold" text-anchor="middle" class="d" stroke="#1b1e52">00</text>
<text transform="translate(274.33 360.30) scale(0.82 1)" font-size="11.2" fill="#1b1e52" font-weight="bold" text-anchor="middle" class="d" stroke="#1b1e52">00</text>
<rect x="286.20" y="351.25" width="20.00" height="11.50" fill="#c5e2f5" />
<text transform="translate(296.20 360.30) scale(0.81 1)" font-size="11.2" fill="#1b1e52" font-weight="normal" text-anchor="middle" class="dr" stroke="#1b1e52">00</text>
<text transform="translate(318.07 360.30) scale(0.82 1)" font-size="11.2" fill="#1b1e52" font-weight="bold" text-anchor="middle" class="d" stroke="#1b1e52">00</text>
<text transform="translate(339.94 360.30) scale(0.82 1)" font-size="11.2" fill="#1b1e52" font-weight="bold" text-anchor="middle" class="d" stroke="#1b1e52">00</text>
<text transform="translate(361.81 360.30) scale(0.82 1)" font-size="11.2" fill="#1b1e52" font-weight="bold" text-anchor="middle" class="d" stroke="#1b1e52">00</text>
<rect x="373.68" y="351.25" width="20.00" height="11.50" fill="#c5e2f5" />
<text transform="translate(383.68 360.30) scale(0.81 1)" font-size="11.2" fill="#1b1e52" font-weight="normal" text-anchor="middle" class="dr" stroke="#1b1e52">00</text>
<text transform="translate(405.55 360.30) scale(0.82 1)" font-size="11.2" fill="#1b1e52" font-weight="bold" text-anchor="middle" class="d" stroke="#1b1e52">00</text>
<rect x="417.42" y="351.25" width="20.00" height="11.50" fill="#c5e2f5" />
<text transform="translate(427.42 360.30) scale(0.81 1)" font-size="11.2" fill="#1b1e52" font-weight="normal" text-anchor="middle" class="dr" stroke="#1b1e52">00</text>
<rect x="439.29" y="351.25" width="20.00" height="11.50" fill="#dc0f21" />
<text transform="translate(449.29 360.30) scale(0.81 1)" font-size="11.2" fill="#fff" font-weight="normal" text-anchor="middle" class="dr" stroke="#fff">00</text>
<rect x="461.16" y="351.25" width="20.00" height="11.50" fill="#dc0f21" />
<text transform="translate(471.16 360.30) scale(0.81 1)" font-size="11.2" fill="#fff" font-weight="normal" text-anchor="middle" class="dr" stroke="#fff">00</text>
<rect x="439.29" y="365.00" width="20.00" height="11.50" fill="#dc0f21" />
<text transform="translate(449.29 374.05) scale(0.81 1)" font-size="11.2" fill="#fff" font-weight="normal" text-anchor="middle" class="dr" stroke="#fff">30</text>
<rect x="239.25" y="395.00" width="73.25" height="17.00" fill="#1f245f" />
<text x="244.05" y="407.95" font-size="10.9" fill="#fff" font-weight="bold" text-anchor="start" textLength="61.90" lengthAdjust="spacingAndGlyphs" class="t">MADRUGÁ</text>
<rect x="188.00" y="420.75" width="20.00" height="11.75" fill="#5b8cc7" />
<text transform="translate(198.00 430.57) scale(0.81 1)" font-size="11.2" fill="#fff" font-weight="normal" text-anchor="middle" class="h">00</text>
<rect x="209.87" y="420.75" width="20.00" height="11.75" fill="#5b8cc7" />
<text transform="translate(219.87 430.57) scale(0.81 1)" font-size="11.2" fill="#fff" font-weight="normal" text-anchor="middle" class="h">01</text>
<rect x="231.74" y="420.75" width="20.00" height="11.75" fill="#5b8cc7" />
<text transform="translate(241.74 430.57) scale(0.81 1)" font-size="11.2" fill="#fff" font-weight="normal" text-anchor="middle" class="h">02</text>
<rect x="253.61" y="420.75" width="20.00" height="11.75" fill="#5b8cc7" />
<text transform="translate(263.61 430.57) scale(0.81 1)" font-size="11.2" fill="#fff" font-weight="normal" text-anchor="middle" class="h">03</text>
<rect x="275.48" y="420.75" width="20.00" height="11.75" fill="#5b8cc7" />
<text transform="translate(285.48 430.57) scale(0.81 1)" font-size="11.2" fill="#fff" font-weight="normal" text-anchor="middle" class="h">04</text>
<rect x="297.35" y="420.75" width="20.00" height="11.75" fill="#5b8cc7" />
<text transform="translate(307.35 430.57) scale(0.81 1)" font-size="11.2" fill="#fff" font-weight="normal" text-anchor="middle" class="h">05</text>
<rect x="319.22" y="420.75" width="20.00" height="11.75" fill="#5b8cc7" />
<text transform="translate(329.22 430.57) scale(0.81 1)" font-size="11.2" fill="#fff" font-weight="normal" text-anchor="middle" class="h">06</text>
<rect x="341.09" y="420.75" width="20.00" height="11.75" fill="#5b8cc7" />
<text transform="translate(351.09 430.57) scale(0.81 1)" font-size="11.2" fill="#fff" font-weight="normal" text-anchor="middle" class="h">07</text>
<rect x="188.00" y="433.75" width="20.00" height="12.00" fill="#dc0f21" />
<text transform="translate(198.00 443.05) scale(0.81 1)" font-size="11.2" fill="#fff" font-weight="normal" text-anchor="middle" class="dr" stroke="#fff">30</text>
<rect x="209.87" y="433.75" width="20.00" height="12.00" fill="#dc0f21" />
<text transform="translate(219.87 443.05) scale(0.81 1)" font-size="11.2" fill="#fff" font-weight="normal" text-anchor="middle" class="dr" stroke="#fff">00</text>
<rect x="231.74" y="433.75" width="20.00" height="12.00" fill="#dc0f21" />
<text transform="translate(241.74 443.05) scale(0.81 1)" font-size="11.2" fill="#fff" font-weight="normal" text-anchor="middle" class="dr" stroke="#fff">00</text>
<rect x="253.61" y="433.75" width="20.00" height="12.00" fill="#dc0f21" />
<text transform="translate(263.61 443.05) scale(0.81 1)" font-size="11.2" fill="#fff" font-weight="normal" text-anchor="middle" class="dr" stroke="#fff">00</text>
<rect x="275.48" y="433.75" width="20.00" height="12.00" fill="#dc0f21" />
<text transform="translate(285.48 443.05) scale(0.81 1)" font-size="11.2" fill="#fff" font-weight="normal" text-anchor="middle" class="dr" stroke="#fff">00</text>
<rect x="297.35" y="433.75" width="20.00" height="12.00" fill="#dc0f21" />
<text transform="translate(307.35 443.05) scale(0.81 1)" font-size="11.2" fill="#fff" font-weight="normal" text-anchor="middle" class="dr" stroke="#fff">00</text>
<rect x="319.22" y="433.75" width="20.00" height="12.00" fill="#dc0f21" />
<text transform="translate(329.22 443.05) scale(0.81 1)" font-size="11.2" fill="#fff" font-weight="normal" text-anchor="middle" class="dr" stroke="#fff">15</text>
<rect x="341.09" y="433.75" width="20.00" height="12.00" fill="#dc0f21" />
<text transform="translate(351.09 443.05) scale(0.81 1)" font-size="11.2" fill="#fff" font-weight="normal" text-anchor="middle" class="dr" stroke="#fff">30</text>
<rect x="224.50" y="475.75" width="103.00" height="17.25" fill="#1f245f" />
<text x="228.30" y="488.82" font-size="10.9" fill="#fff" font-weight="bold" text-anchor="start" textLength="94.65" lengthAdjust="spacingAndGlyphs" class="t">VIERNES SANTO</text>
<rect x="67.50" y="500.75" width="20.00" height="11.75" fill="#5b8cc7" />
<text transform="translate(77.50 510.57) scale(0.81 1)" font-size="11.2" fill="#fff" font-weight="normal" text-anchor="middle" class="h">07</text>
<rect x="89.37" y="500.75" width="20.00" height="11.75" fill="#5b8cc7" />
<text transform="translate(99.37 510.57) scale(0.81 1)" font-size="11.2" fill="#fff" font-weight="normal" text-anchor="middle" class="h">08</text>
<rect x="111.24" y="500.75" width="20.00" height="11.75" fill="#5b8cc7" />
<text transform="translate(121.24 510.57) scale(0.81 1)" font-size="11.2" fill="#fff" font-weight="normal" text-anchor="middle" class="h">09</text>
<rect x="133.11" y="500.75" width="20.00" height="11.75" fill="#5b8cc7" />
<text transform="translate(143.11 510.57) scale(0.81 1)" font-size="11.2" fill="#fff" font-weight="normal" text-anchor="middle" class="h">10</text>
<rect x="154.98" y="500.75" width="20.00" height="11.75" fill="#5b8cc7" />
<text transform="translate(164.98 510.57) scale(0.81 1)" font-size="11.2" fill="#fff" font-weight="normal" text-anchor="middle" class="h">11</text>
<rect x="176.85" y="500.75" width="20.00" height="11.75" fill="#5b8cc7" />
<text transform="translate(186.85 510.57) scale(0.81 1)" font-size="11.2" fill="#fff" font-weight="normal" text-anchor="middle" class="h">12</text>
<rect x="198.72" y="500.75" width="20.00" height="11.75" fill="#5b8cc7" />
<text transform="translate(208.72 510.57) scale(0.81 1)" font-size="11.2" fill="#fff" font-weight="normal" text-anchor="middle" class="h">13</text>
<rect x="220.59" y="500.75" width="20.00" height="11.75" fill="#5b8cc7" />
<text transform="translate(230.59 510.57) scale(0.81 1)" font-size="11.2" fill="#fff" font-weight="normal" text-anchor="middle" class="h">14</text>
<rect x="242.46" y="500.75" width="20.00" height="11.75" fill="#5b8cc7" />
<text transform="translate(252.46 510.57) scale(0.81 1)" font-size="11.2" fill="#fff" font-weight="normal" text-anchor="middle" class="h">15</text>
<rect x="264.33" y="500.75" width="20.00" height="11.75" fill="#5b8cc7" />
<text transform="translate(274.33 510.57) scale(0.81 1)" font-size="11.2" fill="#fff" font-weight="normal" text-anchor="middle" class="h">16</text>
<rect x="286.20" y="500.75" width="20.00" height="11.75" fill="#5b8cc7" />
<text transform="translate(296.20 510.57) scale(0.81 1)" font-size="11.2" fill="#fff" font-weight="normal" text-anchor="middle" class="h">17</text>
<rect x="308.07" y="500.75" width="20.00" height="11.75" fill="#5b8cc7" />
<text transform="translate(318.07 510.57) scale(0.81 1)" font-size="11.2" fill="#fff" font-weight="normal" text-anchor="middle" class="h">18</text>
<rect x="329.94" y="500.75" width="20.00" height="11.75" fill="#5b8cc7" />
<text transform="translate(339.94 510.57) scale(0.81 1)" font-size="11.2" fill="#fff" font-weight="normal" text-anchor="middle" class="h">19</text>
<rect x="351.81" y="500.75" width="20.00" height="11.75" fill="#5b8cc7" />
<text transform="translate(361.81 510.57) scale(0.81 1)" font-size="11.2" fill="#fff" font-weight="normal" text-anchor="middle" class="h">20</text>
<rect x="373.68" y="500.75" width="20.00" height="11.75" fill="#5b8cc7" />
<text transform="translate(383.68 510.57) scale(0.81 1)" font-size="11.2" fill="#fff" font-weight="normal" text-anchor="middle" class="h">21</text>
<rect x="395.55" y="500.75" width="20.00" height="11.75" fill="#5b8cc7" />
<text transform="translate(405.55 510.57) scale(0.81 1)" font-size="11.2" fill="#fff" font-weight="normal" text-anchor="middle" class="h">22</text>
<rect x="417.42" y="500.75" width="20.00" height="11.75" fill="#5b8cc7" />
<text transform="translate(427.42 510.57) scale(0.81 1)" font-size="11.2" fill="#fff" font-weight="normal" text-anchor="middle" class="h">23</text>
<rect x="439.29" y="500.75" width="20.00" height="11.75" fill="#5b8cc7" />
<text transform="translate(449.29 510.57) scale(0.81 1)" font-size="11.2" fill="#fff" font-weight="normal" text-anchor="middle" class="h">24</text>
<text transform="translate(77.50 523.80) scale(0.82 1)" font-size="11.2" fill="#1b1e52" font-weight="bold" text-anchor="middle" class="d" stroke="#1b1e52">00</text>
<rect x="89.37" y="514.50" width="20.00" height="12.00" fill="#c5e2f5" />
<text transform="translate(99.37 523.80) scale(0.81 1)" font-size="11.2" fill="#1b1e52" font-weight="normal" text-anchor="middle" class="dr" stroke="#1b1e52">00</text>
<text transform="translate(121.24 523.80) scale(0.82 1)" font-size="11.2" fill="#1b1e52" font-weight="bold" text-anchor="middle" class="d" stroke="#1b1e52">00</text>
<rect x="133.11" y="514.50" width="20.00" height="12.00" fill="#c5e2f5" />
<text transform="translate(143.11 523.80) scale(0.81 1)" font-size="11.2" fill="#1b1e52" font-weight="normal" text-anchor="middle" class="dr" stroke="#1b1e52">00</text>
<rect x="154.98" y="514.50" width="20.00" height="12.00" fill="#ffe600" />
<text transform="translate(164.98 523.80) scale(0.81 1)" font-size="11.2" fill="#1b1e52" font-weight="normal" text-anchor="middle" class="dr" stroke="#1b1e52">00</text>
<text transform="translate(186.85 523.80) scale(0.82 1)" font-size="11.2" fill="#1b1e52" font-weight="bold" text-anchor="middle" class="d" stroke="#1b1e52">00</text>
<rect x="198.72" y="514.50" width="20.00" height="12.00" fill="#c5e2f5" />
<text transform="translate(208.72 523.80) scale(0.81 1)" font-size="11.2" fill="#1b1e52" font-weight="normal" text-anchor="middle" class="dr" stroke="#1b1e52">00</text>
<text transform="translate(230.59 523.80) scale(0.82 1)" font-size="11.2" fill="#1b1e52" font-weight="bold" text-anchor="middle" class="d" stroke="#1b1e52">00</text>
<text transform="translate(252.46 523.80) scale(0.82 1)" font-size="11.2" fill="#1b1e52" font-weight="bold" text-anchor="middle" class="d" stroke="#1b1e52">00</text>
<rect x="264.33" y="514.50" width="20.00" height="12.00" fill="#c5e2f5" />
<text transform="translate(274.33 523.80) scale(0.81 1)" font-size="11.2" fill="#1b1e52" font-weight="normal" text-anchor="middle" class="dr" stroke="#1b1e52">00</text>
<text transform="translate(296.20 523.80) scale(0.82 1)" font-size="11.2" fill="#1b1e52" font-weight="bold" text-anchor="middle" class="d" stroke="#1b1e52">00</text>
<text transform="translate(318.07 523.80) scale(0.82 1)" font-size="11.2" fill="#1b1e52" font-weight="bold" text-anchor="middle" class="d" stroke="#1b1e52">00</text>
<text transform="translate(339.94 523.80) scale(0.82 1)" font-size="11.2" fill="#1b1e52" font-weight="bold" text-anchor="middle" class="d" stroke="#1b1e52">00</text>
<text transform="translate(361.81 523.80) scale(0.82 1)" font-size="11.2" fill="#1b1e52" font-weight="bold" text-anchor="middle" class="d" stroke="#1b1e52">00</text>
<text transform="translate(383.68 523.80) scale(0.82 1)" font-size="11.2" fill="#1b1e52" font-weight="bold" text-anchor="middle" class="d" stroke="#1b1e52">00</text>
<rect x="395.55" y="514.50" width="20.00" height="12.00" fill="#c5e2f5" />
<text transform="translate(405.55 523.80) scale(0.81 1)" font-size="11.2" fill="#1b1e52" font-weight="normal" text-anchor="middle" class="dr" stroke="#1b1e52">00</text>
<text transform="translate(427.42 523.80) scale(0.82 1)" font-size="11.2" fill="#1b1e52" font-weight="bold" text-anchor="middle" class="d" stroke="#1b1e52">00</text>
<rect x="439.29" y="514.50" width="20.00" height="12.00" fill="#dc0f21" />
<text transform="translate(449.29 523.80) scale(0.81 1)" font-size="11.2" fill="#fff" font-weight="normal" text-anchor="middle" class="dr" stroke="#fff">00</text>
<rect x="100.77" y="528.75" width="20.00" height="12.00" fill="#dc0f21" />
<text transform="translate(110.77 538.05) scale(0.81 1)" font-size="11.2" fill="#fff" font-weight="normal" text-anchor="middle" class="dr" stroke="#fff">30</text>
<rect x="122.64" y="528.75" width="20.00" height="12.00" fill="#dc0f21" />
<text transform="translate(132.64 538.05) scale(0.81 1)" font-size="11.2" fill="#fff" font-weight="normal" text-anchor="middle" class="dr" stroke="#fff">30</text>
<rect x="144.51" y="528.75" width="20.00" height="12.00" fill="#dc0f21" />
<text transform="translate(154.51 538.05) scale(0.81 1)" font-size="11.2" fill="#fff" font-weight="normal" text-anchor="middle" class="dr" stroke="#fff">30</text>
<rect x="704.25" y="125.00" width="137.50" height="16.75" fill="#1f245f" />
<text x="710.80" y="137.83" font-size="10.9" fill="#fff" font-weight="bold" text-anchor="start" textLength="122.65" lengthAdjust="spacingAndGlyphs" class="t">DOMINGO DE RAMOS</text>
<rect x="543.00" y="150.50" width="20.00" height="11.25" fill="#5b8cc7" />
<text transform="translate(553.00 160.07) scale(0.81 1)" font-size="11.2" fill="#fff" font-weight="normal" text-anchor="middle" class="h">06</text>
<rect x="564.87" y="150.50" width="20.00" height="11.25" fill="#5b8cc7" />
<text transform="translate(574.87 160.07) scale(0.81 1)" font-size="11.2" fill="#fff" font-weight="normal" text-anchor="middle" class="h">07</text>
<rect x="586.74" y="150.50" width="20.00" height="11.25" fill="#5b8cc7" />
<text transform="translate(596.74 160.07) scale(0.81 1)" font-size="11.2" fill="#fff" font-weight="normal" text-anchor="middle" class="h">08</text>
<rect x="608.61" y="150.50" width="20.00" height="11.25" fill="#5b8cc7" />
<text transform="translate(618.61 160.07) scale(0.81 1)" font-size="11.2" fill="#fff" font-weight="normal" text-anchor="middle" class="h">09</text>
<rect x="630.48" y="150.50" width="20.00" height="11.25" fill="#5b8cc7" />
<text transform="translate(640.48 160.07) scale(0.81 1)" font-size="11.2" fill="#fff" font-weight="normal" text-anchor="middle" class="h">10</text>
<rect x="652.35" y="150.50" width="20.00" height="11.25" fill="#5b8cc7" />
<text transform="translate(662.35 160.07) scale(0.81 1)" font-size="11.2" fill="#fff" font-weight="normal" text-anchor="middle" class="h">11</text>
<rect x="674.22" y="150.50" width="20.00" height="11.25" fill="#5b8cc7" />
<text transform="translate(684.22 160.07) scale(0.81 1)" font-size="11.2" fill="#fff" font-weight="normal" text-anchor="middle" class="h">12</text>
<rect x="696.09" y="150.50" width="20.00" height="11.25" fill="#5b8cc7" />
<text transform="translate(706.09 160.07) scale(0.81 1)" font-size="11.2" fill="#fff" font-weight="normal" text-anchor="middle" class="h">13</text>
<rect x="717.96" y="150.50" width="20.00" height="11.25" fill="#5b8cc7" />
<text transform="translate(727.96 160.07) scale(0.81 1)" font-size="11.2" fill="#fff" font-weight="normal" text-anchor="middle" class="h">14</text>
<rect x="739.83" y="150.50" width="20.00" height="11.25" fill="#5b8cc7" />
<text transform="translate(749.83 160.07) scale(0.81 1)" font-size="11.2" fill="#fff" font-weight="normal" text-anchor="middle" class="h">15</text>
<rect x="761.70" y="150.50" width="20.00" height="11.25" fill="#5b8cc7" />
<text transform="translate(771.70 160.07) scale(0.81 1)" font-size="11.2" fill="#fff" font-weight="normal" text-anchor="middle" class="h">16</text>
<rect x="783.57" y="150.50" width="20.00" height="11.25" fill="#5b8cc7" />
<text transform="translate(793.57 160.07) scale(0.81 1)" font-size="11.2" fill="#fff" font-weight="normal" text-anchor="middle" class="h">17</text>
<rect x="805.44" y="150.50" width="20.00" height="11.25" fill="#5b8cc7" />
<text transform="translate(815.44 160.07) scale(0.81 1)" font-size="11.2" fill="#fff" font-weight="normal" text-anchor="middle" class="h">18</text>
<rect x="827.31" y="150.50" width="20.00" height="11.25" fill="#5b8cc7" />
<text transform="translate(837.31 160.07) scale(0.81 1)" font-size="11.2" fill="#fff" font-weight="normal" text-anchor="middle" class="h">19</text>
<rect x="849.18" y="150.50" width="20.00" height="11.25" fill="#5b8cc7" />
<text transform="translate(859.18 160.07) scale(0.81 1)" font-size="11.2" fill="#fff" font-weight="normal" text-anchor="middle" class="h">20</text>
<rect x="871.05" y="150.50" width="20.00" height="11.25" fill="#5b8cc7" />
<text transform="translate(881.05 160.07) scale(0.81 1)" font-size="11.2" fill="#fff" font-weight="normal" text-anchor="middle" class="h">21</text>
<rect x="892.92" y="150.50" width="20.00" height="11.25" fill="#5b8cc7" />
<text transform="translate(902.92 160.07) scale(0.81 1)" font-size="11.2" fill="#fff" font-weight="normal" text-anchor="middle" class="h">22</text>
<rect x="914.79" y="150.50" width="20.00" height="11.25" fill="#5b8cc7" />
<text transform="translate(924.79 160.07) scale(0.81 1)" font-size="11.2" fill="#fff" font-weight="normal" text-anchor="middle" class="h">23</text>
<rect x="936.66" y="150.50" width="20.00" height="11.25" fill="#5b8cc7" />
<text transform="translate(946.66 160.07) scale(0.81 1)" font-size="11.2" fill="#fff" font-weight="normal" text-anchor="middle" class="h">24</text>
<rect x="958.53" y="150.50" width="20.00" height="11.25" fill="#5b8cc7" />
<text transform="translate(968.53 160.07) scale(0.81 1)" font-size="11.2" fill="#fff" font-weight="normal" text-anchor="middle" class="h">01</text>
<rect x="980.40" y="150.50" width="20.00" height="11.25" fill="#5b8cc7" />
<text transform="translate(990.40 160.07) scale(0.81 1)" font-size="11.2" fill="#fff" font-weight="normal" text-anchor="middle" class="h">02</text>
<text transform="translate(596.74 173.35) scale(0.82 1)" font-size="11.2" fill="#1b1e52" font-weight="bold" text-anchor="middle" class="d" stroke="#1b1e52">00</text>
<text transform="translate(618.61 173.35) scale(0.82 1)" font-size="11.2" fill="#1b1e52" font-weight="bold" text-anchor="middle" class="d" stroke="#1b1e52">00</text>
<text transform="translate(640.48 173.35) scale(0.82 1)" font-size="11.2" fill="#1b1e52" font-weight="bold" text-anchor="middle" class="d" stroke="#1b1e52">00</text>
<rect x="652.35" y="164.25" width="20.00" height="11.60" fill="#c5e2f5" />
<text transform="translate(662.35 173.35) scale(0.81 1)" font-size="11.2" fill="#1b1e52" font-weight="normal" text-anchor="middle" class="dr" stroke="#1b1e52">00</text>
<text transform="translate(684.22 173.35) scale(0.82 1)" font-size="11.2" fill="#1b1e52" font-weight="bold" text-anchor="middle" class="d" stroke="#1b1e52">00</text>
<text transform="translate(706.09 173.35) scale(0.82 1)" font-size="11.2" fill="#1b1e52" font-weight="bold" text-anchor="middle" class="d" stroke="#1b1e52">00</text>
<text transform="translate(727.96 173.35) scale(0.82 1)" font-size="11.2" fill="#1b1e52" font-weight="bold" text-anchor="middle" class="d" stroke="#1b1e52">00</text>
<rect x="739.83" y="164.25" width="20.00" height="11.60" fill="#c5e2f5" />
<text transform="translate(749.83 173.35) scale(0.81 1)" font-size="11.2" fill="#1b1e52" font-weight="normal" text-anchor="middle" class="dr" stroke="#1b1e52">00</text>
<text transform="translate(771.70 173.35) scale(0.82 1)" font-size="11.2" fill="#1b1e52" font-weight="bold" text-anchor="middle" class="d" stroke="#1b1e52">00</text>
<text transform="translate(793.57 173.35) scale(0.82 1)" font-size="11.2" fill="#1b1e52" font-weight="bold" text-anchor="middle" class="d" stroke="#1b1e52">00</text>
<rect x="805.44" y="164.25" width="20.00" height="11.60" fill="#c5e2f5" />
<text transform="translate(815.44 173.35) scale(0.81 1)" font-size="11.2" fill="#1b1e52" font-weight="normal" text-anchor="middle" class="dr" stroke="#1b1e52">00</text>
<text transform="translate(837.31 173.35) scale(0.82 1)" font-size="11.2" fill="#1b1e52" font-weight="bold" text-anchor="middle" class="d" stroke="#1b1e52">00</text>
<rect x="849.18" y="164.25" width="20.00" height="11.60" fill="#c5e2f5" />
<text transform="translate(859.18 173.35) scale(0.81 1)" font-size="11.2" fill="#1b1e52" font-weight="normal" text-anchor="middle" class="dr" stroke="#1b1e52">00</text>
<text transform="translate(881.05 173.35) scale(0.82 1)" font-size="11.2" fill="#1b1e52" font-weight="bold" text-anchor="middle" class="d" stroke="#1b1e52">00</text>
<text transform="translate(902.92 173.35) scale(0.82 1)" font-size="11.2" fill="#1b1e52" font-weight="bold" text-anchor="middle" class="d" stroke="#1b1e52">00</text>
<rect x="914.79" y="164.25" width="20.00" height="11.60" fill="#c5e2f5" />
<text transform="translate(924.79 173.35) scale(0.81 1)" font-size="11.2" fill="#1b1e52" font-weight="normal" text-anchor="middle" class="dr" stroke="#1b1e52">00</text>
<rect x="936.66" y="164.25" width="20.00" height="11.60" fill="#dc0f21" />
<text transform="translate(946.66 173.35) scale(0.81 1)" font-size="11.2" fill="#fff" font-weight="normal" text-anchor="middle" class="dr" stroke="#fff">00</text>
<rect x="958.53" y="164.25" width="20.00" height="11.60" fill="#dc0f21" />
<text transform="translate(968.53 173.35) scale(0.81 1)" font-size="11.2" fill="#fff" font-weight="normal" text-anchor="middle" class="dr" stroke="#fff">00</text>
<rect x="980.40" y="164.25" width="20.00" height="11.60" fill="#dc0f21" />
<text transform="translate(990.40 173.35) scale(0.81 1)" font-size="11.2" fill="#fff" font-weight="normal" text-anchor="middle" class="dr" stroke="#fff">00</text>
<rect x="849.18" y="177.50" width="20.00" height="11.60" fill="#dc0f21" />
<text transform="translate(859.18 186.60) scale(0.81 1)" font-size="11.2" fill="#fff" font-weight="normal" text-anchor="middle" class="dr" stroke="#fff">30</text>
<rect x="871.05" y="177.50" width="20.00" height="11.60" fill="#dc0f21" />
<text transform="translate(881.05 186.60) scale(0.81 1)" font-size="11.2" fill="#fff" font-weight="normal" text-anchor="middle" class="dr" stroke="#fff">30</text>
<rect x="892.92" y="177.50" width="20.00" height="11.60" fill="#dc0f21" />
<text transform="translate(902.92 186.60) scale(0.81 1)" font-size="11.2" fill="#fff" font-weight="normal" text-anchor="middle" class="dr" stroke="#fff">30</text>
<rect x="914.79" y="177.50" width="20.00" height="11.60" fill="#dc0f21" />
<text transform="translate(924.79 186.60) scale(0.81 1)" font-size="11.2" fill="#fff" font-weight="normal" text-anchor="middle" class="dr" stroke="#fff">30</text>
<rect x="662.50" y="203.75" width="221.80" height="17.00" fill="#1f245f" />
<text x="666.55" y="216.70" font-size="10.9" fill="#fff" font-weight="bold" text-anchor="start" textLength="211.45" lengthAdjust="spacingAndGlyphs" class="t">LUNES, MARTES, MIÉRCOLES SANTO</text>
<rect x="543.00" y="228.75" width="20.00" height="11.75" fill="#5b8cc7" />
<text transform="translate(553.00 238.57) scale(0.81 1)" font-size="11.2" fill="#fff" font-weight="normal" text-anchor="middle" class="h">06</text>
<rect x="564.87" y="228.75" width="20.00" height="11.75" fill="#5b8cc7" />
<text transform="translate(574.87 238.57) scale(0.81 1)" font-size="11.2" fill="#fff" font-weight="normal" text-anchor="middle" class="h">07</text>
<rect x="586.74" y="228.75" width="20.00" height="11.75" fill="#5b8cc7" />
<text transform="translate(596.74 238.57) scale(0.81 1)" font-size="11.2" fill="#fff" font-weight="normal" text-anchor="middle" class="h">08</text>
<rect x="608.61" y="228.75" width="20.00" height="11.75" fill="#5b8cc7" />
<text transform="translate(618.61 238.57) scale(0.81 1)" font-size="11.2" fill="#fff" font-weight="normal" text-anchor="middle" class="h">09</text>
<rect x="630.48" y="228.75" width="20.00" height="11.75" fill="#5b8cc7" />
<text transform="translate(640.48 238.57) scale(0.81 1)" font-size="11.2" fill="#fff" font-weight="normal" text-anchor="middle" class="h">10</text>
<rect x="652.35" y="228.75" width="20.00" height="11.75" fill="#5b8cc7" />
<text transform="translate(662.35 238.57) scale(0.81 1)" font-size="11.2" fill="#fff" font-weight="normal" text-anchor="middle" class="h">11</text>
<rect x="674.22" y="228.75" width="20.00" height="11.75" fill="#5b8cc7" />
<text transform="translate(684.22 238.57) scale(0.81 1)" font-size="11.2" fill="#fff" font-weight="normal" text-anchor="middle" class="h">12</text>
<rect x="696.09" y="228.75" width="20.00" height="11.75" fill="#5b8cc7" />
<text transform="translate(706.09 238.57) scale(0.81 1)" font-size="11.2" fill="#fff" font-weight="normal" text-anchor="middle" class="h">13</text>
<rect x="717.96" y="228.75" width="20.00" height="11.75" fill="#5b8cc7" />
<text transform="translate(727.96 238.57) scale(0.81 1)" font-size="11.2" fill="#fff" font-weight="normal" text-anchor="middle" class="h">14</text>
<rect x="739.83" y="228.75" width="20.00" height="11.75" fill="#5b8cc7" />
<text transform="translate(749.83 238.57) scale(0.81 1)" font-size="11.2" fill="#fff" font-weight="normal" text-anchor="middle" class="h">15</text>
<rect x="761.70" y="228.75" width="20.00" height="11.75" fill="#5b8cc7" />
<text transform="translate(771.70 238.57) scale(0.81 1)" font-size="11.2" fill="#fff" font-weight="normal" text-anchor="middle" class="h">16</text>
<rect x="783.57" y="228.75" width="20.00" height="11.75" fill="#5b8cc7" />
<text transform="translate(793.57 238.57) scale(0.81 1)" font-size="11.2" fill="#fff" font-weight="normal" text-anchor="middle" class="h">17</text>
<rect x="805.44" y="228.75" width="20.00" height="11.75" fill="#5b8cc7" />
<text transform="translate(815.44 238.57) scale(0.81 1)" font-size="11.2" fill="#fff" font-weight="normal" text-anchor="middle" class="h">18</text>
<rect x="827.31" y="228.75" width="20.00" height="11.75" fill="#5b8cc7" />
<text transform="translate(837.31 238.57) scale(0.81 1)" font-size="11.2" fill="#fff" font-weight="normal" text-anchor="middle" class="h">19</text>
<rect x="849.18" y="228.75" width="20.00" height="11.75" fill="#5b8cc7" />
<text transform="translate(859.18 238.57) scale(0.81 1)" font-size="11.2" fill="#fff" font-weight="normal" text-anchor="middle" class="h">20</text>
<rect x="871.05" y="228.75" width="20.00" height="11.75" fill="#5b8cc7" />
<text transform="translate(881.05 238.57) scale(0.81 1)" font-size="11.2" fill="#fff" font-weight="normal" text-anchor="middle" class="h">21</text>
<rect x="892.92" y="228.75" width="20.00" height="11.75" fill="#5b8cc7" />
<text transform="translate(902.92 238.57) scale(0.81 1)" font-size="11.2" fill="#fff" font-weight="normal" text-anchor="middle" class="h">22</text>
<rect x="914.79" y="228.75" width="20.00" height="11.75" fill="#5b8cc7" />
<text transform="translate(924.79 238.57) scale(0.81 1)" font-size="11.2" fill="#fff" font-weight="normal" text-anchor="middle" class="h">23</text>
<rect x="936.66" y="228.75" width="20.00" height="11.75" fill="#5b8cc7" />
<text transform="translate(946.66 238.57) scale(0.81 1)" font-size="11.2" fill="#fff" font-weight="normal" text-anchor="middle" class="h">24</text>
<rect x="958.53" y="228.75" width="20.00" height="11.75" fill="#5b8cc7" />
<text transform="translate(968.53 238.57) scale(0.81 1)" font-size="11.2" fill="#fff" font-weight="normal" text-anchor="middle" class="h">01</text>
<rect x="980.40" y="228.75" width="20.00" height="11.75" fill="#5b8cc7" />
<text transform="translate(990.40 238.57) scale(0.81 1)" font-size="11.2" fill="#fff" font-weight="normal" text-anchor="middle" class="h">02</text>
<rect x="564.87" y="242.00" width="20.00" height="12.00" fill="#a5105e" />
<text transform="translate(574.87 251.30) scale(0.81 1)" font-size="11.2" fill="#fff" font-weight="normal" text-anchor="middle" class="dr" stroke="#fff">00</text>
<rect x="586.74" y="242.00" width="20.00" height="12.00" fill="#a5105e" />
<text transform="translate(596.74 251.30) scale(0.81 1)" font-size="11.2" fill="#fff" font-weight="normal" text-anchor="middle" class="dr" stroke="#fff">00</text>
<rect x="608.61" y="242.00" width="20.00" height="12.00" fill="#a5105e" />
<text transform="translate(618.61 251.30) scale(0.81 1)" font-size="11.2" fill="#fff" font-weight="normal" text-anchor="middle" class="dr" stroke="#fff">00</text>
<rect x="630.48" y="242.00" width="20.00" height="12.00" fill="#a5105e" />
<text transform="translate(640.48 251.30) scale(0.81 1)" font-size="11.2" fill="#fff" font-weight="normal" text-anchor="middle" class="dr" stroke="#fff">00</text>
<text transform="translate(662.35 251.30) scale(0.82 1)" font-size="11.2" fill="#1b1e52" font-weight="bold" text-anchor="middle" class="d" stroke="#1b1e52">00</text>
<text transform="translate(684.22 251.30) scale(0.82 1)" font-size="11.2" fill="#1b1e52" font-weight="bold" text-anchor="middle" class="d" stroke="#1b1e52">00</text>
<rect x="696.09" y="242.00" width="20.00" height="12.00" fill="#a5105e" />
<text transform="translate(706.09 251.30) scale(0.81 1)" font-size="11.2" fill="#fff" font-weight="normal" text-anchor="middle" class="dr" stroke="#fff">00</text>
<rect x="717.96" y="242.00" width="20.00" height="12.00" fill="#a5105e" />
<text transform="translate(727.96 251.30) scale(0.81 1)" font-size="11.2" fill="#fff" font-weight="normal" text-anchor="middle" class="dr" stroke="#fff">00</text>
<rect x="739.83" y="242.00" width="20.00" height="12.00" fill="#a5105e" />
<text transform="translate(749.83 251.30) scale(0.81 1)" font-size="11.2" fill="#fff" font-weight="normal" text-anchor="middle" class="dr" stroke="#fff">00</text>
<rect x="761.70" y="242.00" width="20.00" height="12.00" fill="#a5105e" />
<text transform="translate(771.70 251.30) scale(0.81 1)" font-size="11.2" fill="#fff" font-weight="normal" text-anchor="middle" class="dr" stroke="#fff">15</text>
<text transform="translate(793.57 251.30) scale(0.82 1)" font-size="11.2" fill="#1b1e52" font-weight="bold" text-anchor="middle" class="d" stroke="#1b1e52">15</text>
<text transform="translate(815.44 251.30) scale(0.82 1)" font-size="11.2" fill="#1b1e52" font-weight="bold" text-anchor="middle" class="d" stroke="#1b1e52">15</text>
<rect x="827.31" y="242.00" width="20.00" height="12.00" fill="#a5105e" />
<text transform="translate(837.31 251.30) scale(0.81 1)" font-size="11.2" fill="#fff" font-weight="normal" text-anchor="middle" class="dr" stroke="#fff">15</text>
<text transform="translate(859.18 251.30) scale(0.82 1)" font-size="11.2" fill="#1b1e52" font-weight="bold" text-anchor="middle" class="d" stroke="#1b1e52">15</text>
<text transform="translate(881.05 251.30) scale(0.82 1)" font-size="11.2" fill="#1b1e52" font-weight="bold" text-anchor="middle" class="d" stroke="#1b1e52">15</text>
<rect x="892.92" y="242.00" width="20.00" height="12.00" fill="#a5105e" />
<text transform="translate(902.92 251.30) scale(0.81 1)" font-size="11.2" fill="#fff" font-weight="normal" text-anchor="middle" class="dr" stroke="#fff">15</text>
<text transform="translate(924.79 251.30) scale(0.82 1)" font-size="11.2" fill="#1b1e52" font-weight="bold" text-anchor="middle" class="d" stroke="#1b1e52">15</text>
<rect x="936.66" y="242.00" width="20.00" height="12.00" fill="#dc0f21" />
<text transform="translate(946.66 251.30) scale(0.81 1)" font-size="11.2" fill="#fff" font-weight="normal" text-anchor="middle" class="dr" stroke="#fff">15</text>
<rect x="958.53" y="242.00" width="20.00" height="12.00" fill="#dc0f21" />
<text transform="translate(968.53 251.30) scale(0.81 1)" font-size="11.2" fill="#fff" font-weight="normal" text-anchor="middle" class="dr" stroke="#fff">00</text>
<rect x="980.40" y="242.00" width="20.00" height="12.00" fill="#dc0f21" />
<text transform="translate(990.40 251.30) scale(0.81 1)" font-size="11.2" fill="#fff" font-weight="normal" text-anchor="middle" class="dr" stroke="#fff">00</text>
<text transform="translate(574.87 265.05) scale(0.82 1)" font-size="11.2" fill="#1b1e52" font-weight="bold" text-anchor="middle" class="d" stroke="#1b1e52">30</text>
<text transform="translate(596.74 265.05) scale(0.82 1)" font-size="11.2" fill="#1b1e52" font-weight="bold" text-anchor="middle" class="d" stroke="#1b1e52">20</text>
<rect x="608.61" y="255.75" width="20.00" height="12.00" fill="#a5105e" />
<text transform="translate(618.61 265.05) scale(0.81 1)" font-size="11.2" fill="#fff" font-weight="normal" text-anchor="middle" class="dr" stroke="#fff">20</text>
<rect x="630.48" y="255.75" width="20.00" height="12.00" fill="#a5105e" />
<text transform="translate(640.48 265.05) scale(0.81 1)" font-size="11.2" fill="#fff" font-weight="normal" text-anchor="middle" class="dr" stroke="#fff">20</text>
<text transform="translate(662.35 265.05) scale(0.82 1)" font-size="11.2" fill="#1b1e52" font-weight="bold" text-anchor="middle" class="d" stroke="#1b1e52">20</text>
<text transform="translate(684.22 265.05) scale(0.82 1)" font-size="11.2" fill="#1b1e52" font-weight="bold" text-anchor="middle" class="d" stroke="#1b1e52">20</text>
<rect x="696.09" y="255.75" width="20.00" height="12.00" fill="#169fe0" />
<text transform="translate(706.09 265.05) scale(0.81 1)" font-size="11.2" fill="#1b1e52" font-weight="normal" text-anchor="middle" class="dr" stroke="#1b1e52">00</text>
<text transform="translate(727.96 265.05) scale(0.82 1)" font-size="11.2" fill="#1b1e52" font-weight="bold" text-anchor="middle" class="d" stroke="#1b1e52">20</text>
<rect x="739.83" y="255.75" width="20.00" height="12.00" fill="#169fe0" />
<text transform="translate(749.83 265.05) scale(0.81 1)" font-size="11.2" fill="#1b1e52" font-weight="normal" text-anchor="middle" class="dr" stroke="#1b1e52">00</text>
<text transform="translate(771.70 265.05) scale(0.82 1)" font-size="11.2" fill="#1b1e52" font-weight="bold" text-anchor="middle" class="d" stroke="#1b1e52">45</text>
<rect x="783.57" y="255.75" width="20.00" height="12.00" fill="#a5105e" />
<text transform="translate(793.57 265.05) scale(0.81 1)" font-size="11.2" fill="#fff" font-weight="normal" text-anchor="middle" class="dr" stroke="#fff">45</text>
<text transform="translate(815.44 265.05) scale(0.82 1)" font-size="11.2" fill="#1b1e52" font-weight="bold" text-anchor="middle" class="d" stroke="#1b1e52">45</text>
<text transform="translate(837.31 265.05) scale(0.82 1)" font-size="11.2" fill="#1b1e52" font-weight="bold" text-anchor="middle" class="d" stroke="#1b1e52">45</text>
<rect x="849.18" y="255.75" width="20.00" height="12.00" fill="#a5105e" />
<text transform="translate(859.18 265.05) scale(0.81 1)" font-size="11.2" fill="#fff" font-weight="normal" text-anchor="middle" class="dr" stroke="#fff">45</text>
<text transform="translate(881.05 265.05) scale(0.82 1)" font-size="11.2" fill="#1b1e52" font-weight="bold" text-anchor="middle" class="d" stroke="#1b1e52">45</text>
<text transform="translate(902.92 265.05) scale(0.82 1)" font-size="11.2" fill="#1b1e52" font-weight="bold" text-anchor="middle" class="d" stroke="#1b1e52">45</text>
<rect x="586.74" y="269.25" width="20.00" height="12.00" fill="#a5105e" />
<text transform="translate(596.74 278.55) scale(0.81 1)" font-size="11.2" fill="#fff" font-weight="normal" text-anchor="middle" class="dr" stroke="#fff">40</text>
<text transform="translate(618.61 278.55) scale(0.82 1)" font-size="11.2" fill="#1b1e52" font-weight="bold" text-anchor="middle" class="d" stroke="#1b1e52">40</text>
<text transform="translate(640.48 278.55) scale(0.82 1)" font-size="11.2" fill="#1b1e52" font-weight="bold" text-anchor="middle" class="d" stroke="#1b1e52">40</text>
<rect x="652.35" y="269.25" width="20.00" height="12.00" fill="#a5105e" />
<text transform="translate(662.35 278.55) scale(0.81 1)" font-size="11.2" fill="#fff" font-weight="normal" text-anchor="middle" class="dr" stroke="#fff">40</text>
<text transform="translate(684.22 278.55) scale(0.82 1)" font-size="11.2" fill="#1b1e52" font-weight="bold" text-anchor="middle" class="d" stroke="#1b1e52">40</text>
<rect x="696.09" y="269.25" width="20.00" height="12.00" fill="#a5105e" />
<text transform="translate(706.09 278.55) scale(0.81 1)" font-size="11.2" fill="#fff" font-weight="normal" text-anchor="middle" class="dr" stroke="#fff">20</text>
<rect x="717.96" y="269.25" width="20.00" height="12.00" fill="#169fe0" />
<text transform="translate(727.96 278.55) scale(0.81 1)" font-size="11.2" fill="#1b1e52" font-weight="normal" text-anchor="middle" class="dr" stroke="#1b1e52">20</text>
<text transform="translate(749.83 278.55) scale(0.82 1)" font-size="11.2" fill="#1b1e52" font-weight="bold" text-anchor="middle" class="d" stroke="#1b1e52">20</text>
<text transform="translate(706.09 291.80) scale(0.82 1)" font-size="11.2" fill="#1b1e52" font-weight="bold" text-anchor="middle" class="d" stroke="#1b1e52">40</text>
<rect x="717.96" y="282.50" width="20.00" height="12.00" fill="#a5105e" />
<text transform="translate(727.96 291.80) scale(0.81 1)" font-size="11.2" fill="#fff" font-weight="normal" text-anchor="middle" class="dr" stroke="#fff">40</text>
<text transform="translate(749.83 291.80) scale(0.82 1)" font-size="11.2" fill="#1b1e52" font-weight="bold" text-anchor="middle" class="d" stroke="#1b1e52">45</text>
<rect x="696.09" y="295.75" width="20.00" height="12.00" fill="#169fe0" />
<text transform="translate(706.09 305.05) scale(0.81 1)" font-size="11.2" fill="#1b1e52" font-weight="normal" text-anchor="middle" class="dr" stroke="#1b1e52">40</text>
<rect x="722.00" y="325.75" width="103.00" height="17.25" fill="#1f245f" />
<text x="727.80" y="338.82" font-size="10.9" fill="#fff" font-weight="bold" text-anchor="start" textLength="89.40" lengthAdjust="spacingAndGlyphs" class="t">JUEVES SANTO</text>
<rect x="543.00" y="351.25" width="20.00" height="11.75" fill="#5b8cc7" />
<text transform="translate(553.00 361.07) scale(0.81 1)" font-size="11.2" fill="#fff" font-weight="normal" text-anchor="middle" class="h">06</text>
<rect x="564.87" y="351.25" width="20.00" height="11.75" fill="#5b8cc7" />
<text transform="translate(574.87 361.07) scale(0.81 1)" font-size="11.2" fill="#fff" font-weight="normal" text-anchor="middle" class="h">07</text>
<rect x="586.74" y="351.25" width="20.00" height="11.75" fill="#5b8cc7" />
<text transform="translate(596.74 361.07) scale(0.81 1)" font-size="11.2" fill="#fff" font-weight="normal" text-anchor="middle" class="h">08</text>
<rect x="608.61" y="351.25" width="20.00" height="11.75" fill="#5b8cc7" />
<text transform="translate(618.61 361.07) scale(0.81 1)" font-size="11.2" fill="#fff" font-weight="normal" text-anchor="middle" class="h">09</text>
<rect x="630.48" y="351.25" width="20.00" height="11.75" fill="#5b8cc7" />
<text transform="translate(640.48 361.07) scale(0.81 1)" font-size="11.2" fill="#fff" font-weight="normal" text-anchor="middle" class="h">10</text>
<rect x="652.35" y="351.25" width="20.00" height="11.75" fill="#5b8cc7" />
<text transform="translate(662.35 361.07) scale(0.81 1)" font-size="11.2" fill="#fff" font-weight="normal" text-anchor="middle" class="h">11</text>
<rect x="674.22" y="351.25" width="20.00" height="11.75" fill="#5b8cc7" />
<text transform="translate(684.22 361.07) scale(0.81 1)" font-size="11.2" fill="#fff" font-weight="normal" text-anchor="middle" class="h">12</text>
<rect x="696.09" y="351.25" width="20.00" height="11.75" fill="#5b8cc7" />
<text transform="translate(706.09 361.07) scale(0.81 1)" font-size="11.2" fill="#fff" font-weight="normal" text-anchor="middle" class="h">13</text>
<rect x="717.96" y="351.25" width="20.00" height="11.75" fill="#5b8cc7" />
<text transform="translate(727.96 361.07) scale(0.81 1)" font-size="11.2" fill="#fff" font-weight="normal" text-anchor="middle" class="h">14</text>
<rect x="739.83" y="351.25" width="20.00" height="11.75" fill="#5b8cc7" />
<text transform="translate(749.83 361.07) scale(0.81 1)" font-size="11.2" fill="#fff" font-weight="normal" text-anchor="middle" class="h">15</text>
<rect x="761.70" y="351.25" width="20.00" height="11.75" fill="#5b8cc7" />
<text transform="translate(771.70 361.07) scale(0.81 1)" font-size="11.2" fill="#fff" font-weight="normal" text-anchor="middle" class="h">16</text>
<rect x="783.57" y="351.25" width="20.00" height="11.75" fill="#5b8cc7" />
<text transform="translate(793.57 361.07) scale(0.81 1)" font-size="11.2" fill="#fff" font-weight="normal" text-anchor="middle" class="h">17</text>
<rect x="805.44" y="351.25" width="20.00" height="11.75" fill="#5b8cc7" />
<text transform="translate(815.44 361.07) scale(0.81 1)" font-size="11.2" fill="#fff" font-weight="normal" text-anchor="middle" class="h">18</text>
<rect x="827.31" y="351.25" width="20.00" height="11.75" fill="#5b8cc7" />
<text transform="translate(837.31 361.07) scale(0.81 1)" font-size="11.2" fill="#fff" font-weight="normal" text-anchor="middle" class="h">19</text>
<rect x="849.18" y="351.25" width="20.00" height="11.75" fill="#5b8cc7" />
<text transform="translate(859.18 361.07) scale(0.81 1)" font-size="11.2" fill="#fff" font-weight="normal" text-anchor="middle" class="h">20</text>
<rect x="871.05" y="351.25" width="20.00" height="11.75" fill="#5b8cc7" />
<text transform="translate(881.05 361.07) scale(0.81 1)" font-size="11.2" fill="#fff" font-weight="normal" text-anchor="middle" class="h">21</text>
<rect x="892.92" y="351.25" width="20.00" height="11.75" fill="#5b8cc7" />
<text transform="translate(902.92 361.07) scale(0.81 1)" font-size="11.2" fill="#fff" font-weight="normal" text-anchor="middle" class="h">22</text>
<rect x="914.79" y="351.25" width="20.00" height="11.75" fill="#5b8cc7" />
<text transform="translate(924.79 361.07) scale(0.81 1)" font-size="11.2" fill="#fff" font-weight="normal" text-anchor="middle" class="h">23</text>
<rect x="586.74" y="365.00" width="20.00" height="11.75" fill="#c5e2f5" />
<text transform="translate(596.74 374.18) scale(0.81 1)" font-size="11.2" fill="#1b1e52" font-weight="normal" text-anchor="middle" class="dr" stroke="#1b1e52">00</text>
<text transform="translate(618.61 374.18) scale(0.82 1)" font-size="11.2" fill="#1b1e52" font-weight="bold" text-anchor="middle" class="d" stroke="#1b1e52">00</text>
<text transform="translate(640.48 374.18) scale(0.82 1)" font-size="11.2" fill="#1b1e52" font-weight="bold" text-anchor="middle" class="d" stroke="#1b1e52">00</text>
<rect x="652.35" y="365.00" width="20.00" height="11.75" fill="#c5e2f5" />
<text transform="translate(662.35 374.18) scale(0.81 1)" font-size="11.2" fill="#1b1e52" font-weight="normal" text-anchor="middle" class="dr" stroke="#1b1e52">00</text>
<text transform="translate(684.22 374.18) scale(0.82 1)" font-size="11.2" fill="#1b1e52" font-weight="bold" text-anchor="middle" class="d" stroke="#1b1e52">00</text>
<text transform="translate(706.09 374.18) scale(0.82 1)" font-size="11.2" fill="#1b1e52" font-weight="bold" text-anchor="middle" class="d" stroke="#1b1e52">00</text>
<text transform="translate(727.96 374.18) scale(0.82 1)" font-size="11.2" fill="#1b1e52" font-weight="bold" text-anchor="middle" class="d" stroke="#1b1e52">00</text>
<rect x="739.83" y="365.00" width="20.00" height="11.75" fill="#c5e2f5" />
<text transform="translate(749.83 374.18) scale(0.81 1)" font-size="11.2" fill="#1b1e52" font-weight="normal" text-anchor="middle" class="dr" stroke="#1b1e52">00</text>
<text transform="translate(771.70 374.18) scale(0.82 1)" font-size="11.2" fill="#1b1e52" font-weight="bold" text-anchor="middle" class="d" stroke="#1b1e52">00</text>
<text transform="translate(793.57 374.18) scale(0.82 1)" font-size="11.2" fill="#1b1e52" font-weight="bold" text-anchor="middle" class="d" stroke="#1b1e52">00</text>
<rect x="805.44" y="365.00" width="20.00" height="11.75" fill="#c9a56b" />
<text transform="translate(815.44 374.18) scale(0.81 1)" font-size="11.2" fill="#1b1e52" font-weight="normal" text-anchor="middle" class="dr" stroke="#1b1e52">00</text>
<text transform="translate(837.31 374.18) scale(0.82 1)" font-size="11.2" fill="#1b1e52" font-weight="bold" text-anchor="middle" class="d" stroke="#1b1e52">00</text>
<rect x="849.18" y="365.00" width="20.00" height="11.75" fill="#c5e2f5" />
<text transform="translate(859.18 374.18) scale(0.81 1)" font-size="11.2" fill="#1b1e52" font-weight="normal" text-anchor="middle" class="dr" stroke="#1b1e52">00</text>
<text transform="translate(881.05 374.18) scale(0.82 1)" font-size="11.2" fill="#1b1e52" font-weight="bold" text-anchor="middle" class="d" stroke="#1b1e52">00</text>
<text transform="translate(902.92 374.18) scale(0.82 1)" font-size="11.2" fill="#1b1e52" font-weight="bold" text-anchor="middle" class="d" stroke="#1b1e52">00</text>
<rect x="914.79" y="365.00" width="20.00" height="11.75" fill="#c5e2f5" />
<text transform="translate(924.79 374.18) scale(0.81 1)" font-size="11.2" fill="#1b1e52" font-weight="normal" text-anchor="middle" class="dr" stroke="#1b1e52">00</text>
<rect x="736.25" y="393.25" width="73.75" height="16.75" fill="#1f245f" />
<text x="741.55" y="406.07" font-size="10.9" fill="#fff" font-weight="bold" text-anchor="start" textLength="61.15" lengthAdjust="spacingAndGlyphs" class="t">MADRUGÁ</text>
<rect x="685.00" y="418.25" width="20.00" height="11.75" fill="#5b8cc7" />
<text transform="translate(695.00 428.07) scale(0.81 1)" font-size="11.2" fill="#fff" font-weight="normal" text-anchor="middle" class="h">00</text>
<rect x="706.87" y="418.25" width="20.00" height="11.75" fill="#5b8cc7" />
<text transform="translate(716.87 428.07) scale(0.81 1)" font-size="11.2" fill="#fff" font-weight="normal" text-anchor="middle" class="h">01</text>
<rect x="728.74" y="418.25" width="20.00" height="11.75" fill="#5b8cc7" />
<text transform="translate(738.74 428.07) scale(0.81 1)" font-size="11.2" fill="#fff" font-weight="normal" text-anchor="middle" class="h">02</text>
<rect x="750.61" y="418.25" width="20.00" height="11.75" fill="#5b8cc7" />
<text transform="translate(760.61 428.07) scale(0.81 1)" font-size="11.2" fill="#fff" font-weight="normal" text-anchor="middle" class="h">03</text>
<rect x="772.48" y="418.25" width="20.00" height="11.75" fill="#5b8cc7" />
<text transform="translate(782.48 428.07) scale(0.81 1)" font-size="11.2" fill="#fff" font-weight="normal" text-anchor="middle" class="h">04</text>
<rect x="794.35" y="418.25" width="20.00" height="11.75" fill="#5b8cc7" />
<text transform="translate(804.35 428.07) scale(0.81 1)" font-size="11.2" fill="#fff" font-weight="normal" text-anchor="middle" class="h">05</text>
<rect x="816.22" y="418.25" width="20.00" height="11.75" fill="#5b8cc7" />
<text transform="translate(826.22 428.07) scale(0.81 1)" font-size="11.2" fill="#fff" font-weight="normal" text-anchor="middle" class="h">06</text>
<rect x="838.09" y="418.25" width="20.00" height="11.75" fill="#5b8cc7" />
<text transform="translate(848.09 428.07) scale(0.81 1)" font-size="11.2" fill="#fff" font-weight="normal" text-anchor="middle" class="h">07</text>
<rect x="685.00" y="431.75" width="20.00" height="12.00" fill="#dc0f21" />
<text transform="translate(695.00 441.05) scale(0.81 1)" font-size="11.2" fill="#fff" font-weight="normal" text-anchor="middle" class="dr" stroke="#fff">00</text>
<rect x="706.87" y="431.75" width="20.00" height="12.00" fill="#dc0f21" />
<text transform="translate(716.87 441.05) scale(0.81 1)" font-size="11.2" fill="#fff" font-weight="normal" text-anchor="middle" class="dr" stroke="#fff">00</text>
<rect x="728.74" y="431.75" width="20.00" height="12.00" fill="#dc0f21" />
<text transform="translate(738.74 441.05) scale(0.81 1)" font-size="11.2" fill="#fff" font-weight="normal" text-anchor="middle" class="dr" stroke="#fff">00</text>
<rect x="750.61" y="431.75" width="20.00" height="12.00" fill="#dc0f21" />
<text transform="translate(760.61 441.05) scale(0.81 1)" font-size="11.2" fill="#fff" font-weight="normal" text-anchor="middle" class="dr" stroke="#fff">00</text>
<rect x="772.48" y="431.75" width="20.00" height="12.00" fill="#dc0f21" />
<text transform="translate(782.48 441.05) scale(0.81 1)" font-size="11.2" fill="#fff" font-weight="normal" text-anchor="middle" class="dr" stroke="#fff">00</text>
<rect x="794.35" y="431.75" width="20.00" height="12.00" fill="#dc0f21" />
<text transform="translate(804.35 441.05) scale(0.81 1)" font-size="11.2" fill="#fff" font-weight="normal" text-anchor="middle" class="dr" stroke="#fff">00</text>
<rect x="816.22" y="431.75" width="20.00" height="12.00" fill="#dc0f21" />
<text transform="translate(826.22 441.05) scale(0.81 1)" font-size="11.2" fill="#fff" font-weight="normal" text-anchor="middle" class="dr" stroke="#fff">00</text>
<rect x="838.09" y="431.75" width="20.00" height="12.00" fill="#dc0f21" />
<text transform="translate(848.09 441.05) scale(0.81 1)" font-size="11.2" fill="#fff" font-weight="normal" text-anchor="middle" class="dr" stroke="#fff">00</text>
<rect x="685.00" y="445.50" width="20.00" height="12.00" fill="#dc0f21" />
<text transform="translate(695.00 454.80) scale(0.81 1)" font-size="11.2" fill="#fff" font-weight="normal" text-anchor="middle" class="dr" stroke="#fff">30</text>
<rect x="816.22" y="445.50" width="20.00" height="12.00" fill="#dc0f21" />
<text transform="translate(826.22 454.80) scale(0.81 1)" font-size="11.2" fill="#fff" font-weight="normal" text-anchor="middle" class="dr" stroke="#fff">30</text>
<rect x="838.09" y="445.50" width="20.00" height="12.00" fill="#dc0f21" />
<text transform="translate(848.09 454.80) scale(0.81 1)" font-size="11.2" fill="#fff" font-weight="normal" text-anchor="middle" class="dr" stroke="#fff">30</text>
<rect x="721.75" y="473.75" width="102.75" height="17.00" fill="#1f245f" />
<text x="725.30" y="486.70" font-size="10.9" fill="#fff" font-weight="bold" text-anchor="start" textLength="94.90" lengthAdjust="spacingAndGlyphs" class="t">VIERNES SANTO</text>
<rect x="587.00" y="499.25" width="20.00" height="11.50" fill="#5b8cc7" />
<text transform="translate(597.00 508.95) scale(0.81 1)" font-size="11.2" fill="#fff" font-weight="normal" text-anchor="middle" class="h">08</text>
<rect x="608.87" y="499.25" width="20.00" height="11.50" fill="#5b8cc7" />
<text transform="translate(618.87 508.95) scale(0.81 1)" font-size="11.2" fill="#fff" font-weight="normal" text-anchor="middle" class="h">09</text>
<rect x="630.74" y="499.25" width="20.00" height="11.50" fill="#5b8cc7" />
<text transform="translate(640.74 508.95) scale(0.81 1)" font-size="11.2" fill="#fff" font-weight="normal" text-anchor="middle" class="h">10</text>
<rect x="652.61" y="499.25" width="20.00" height="11.50" fill="#5b8cc7" />
<text transform="translate(662.61 508.95) scale(0.81 1)" font-size="11.2" fill="#fff" font-weight="normal" text-anchor="middle" class="h">11</text>
<rect x="674.48" y="499.25" width="20.00" height="11.50" fill="#5b8cc7" />
<text transform="translate(684.48 508.95) scale(0.81 1)" font-size="11.2" fill="#fff" font-weight="normal" text-anchor="middle" class="h">12</text>
<rect x="696.35" y="499.25" width="20.00" height="11.50" fill="#5b8cc7" />
<text transform="translate(706.35 508.95) scale(0.81 1)" font-size="11.2" fill="#fff" font-weight="normal" text-anchor="middle" class="h">13</text>
<rect x="718.22" y="499.25" width="20.00" height="11.50" fill="#5b8cc7" />
<text transform="translate(728.22 508.95) scale(0.81 1)" font-size="11.2" fill="#fff" font-weight="normal" text-anchor="middle" class="h">14</text>
<rect x="740.09" y="499.25" width="20.00" height="11.50" fill="#5b8cc7" />
<text transform="translate(750.09 508.95) scale(0.81 1)" font-size="11.2" fill="#fff" font-weight="normal" text-anchor="middle" class="h">15</text>
<rect x="761.96" y="499.25" width="20.00" height="11.50" fill="#5b8cc7" />
<text transform="translate(771.96 508.95) scale(0.81 1)" font-size="11.2" fill="#fff" font-weight="normal" text-anchor="middle" class="h">16</text>
<rect x="783.83" y="499.25" width="20.00" height="11.50" fill="#5b8cc7" />
<text transform="translate(793.83 508.95) scale(0.81 1)" font-size="11.2" fill="#fff" font-weight="normal" text-anchor="middle" class="h">17</text>
<rect x="805.70" y="499.25" width="20.00" height="11.50" fill="#5b8cc7" />
<text transform="translate(815.70 508.95) scale(0.81 1)" font-size="11.2" fill="#fff" font-weight="normal" text-anchor="middle" class="h">18</text>
<rect x="827.57" y="499.25" width="20.00" height="11.50" fill="#5b8cc7" />
<text transform="translate(837.57 508.95) scale(0.81 1)" font-size="11.2" fill="#fff" font-weight="normal" text-anchor="middle" class="h">19</text>
<rect x="849.44" y="499.25" width="20.00" height="11.50" fill="#5b8cc7" />
<text transform="translate(859.44 508.95) scale(0.81 1)" font-size="11.2" fill="#fff" font-weight="normal" text-anchor="middle" class="h">20</text>
<rect x="871.31" y="499.25" width="20.00" height="11.50" fill="#5b8cc7" />
<text transform="translate(881.31 508.95) scale(0.81 1)" font-size="11.2" fill="#fff" font-weight="normal" text-anchor="middle" class="h">21</text>
<rect x="893.18" y="499.25" width="20.00" height="11.50" fill="#5b8cc7" />
<text transform="translate(903.18 508.95) scale(0.81 1)" font-size="11.2" fill="#fff" font-weight="normal" text-anchor="middle" class="h">22</text>
<rect x="915.05" y="499.25" width="20.00" height="11.50" fill="#5b8cc7" />
<text transform="translate(925.05 508.95) scale(0.81 1)" font-size="11.2" fill="#fff" font-weight="normal" text-anchor="middle" class="h">23</text>
<rect x="597.00" y="512.50" width="20.00" height="12.00" fill="#c5e2f5" />
<text transform="translate(607.00 521.80) scale(0.81 1)" font-size="11.2" fill="#1b1e52" font-weight="normal" text-anchor="middle" class="dr" stroke="#1b1e52">00</text>
<text transform="translate(628.87 521.80) scale(0.82 1)" font-size="11.2" fill="#1b1e52" font-weight="bold" text-anchor="middle" class="d" stroke="#1b1e52">00</text>
<text transform="translate(650.74 521.80) scale(0.82 1)" font-size="11.2" fill="#1b1e52" font-weight="bold" text-anchor="middle" class="d" stroke="#1b1e52">00</text>
<rect x="662.61" y="512.50" width="20.00" height="12.00" fill="#c5e2f5" />
<text transform="translate(672.61 521.80) scale(0.81 1)" font-size="11.2" fill="#1b1e52" font-weight="normal" text-anchor="middle" class="dr" stroke="#1b1e52">00</text>
<text transform="translate(694.48 521.80) scale(0.82 1)" font-size="11.2" fill="#1b1e52" font-weight="bold" text-anchor="middle" class="d" stroke="#1b1e52">00</text>
<text transform="translate(716.35 521.80) scale(0.82 1)" font-size="11.2" fill="#1b1e52" font-weight="bold" text-anchor="middle" class="d" stroke="#1b1e52">00</text>
<text transform="translate(738.22 521.80) scale(0.82 1)" font-size="11.2" fill="#1b1e52" font-weight="bold" text-anchor="middle" class="d" stroke="#1b1e52">00</text>
<rect x="750.09" y="512.50" width="20.00" height="12.00" fill="#c5e2f5" />
<text transform="translate(760.09 521.80) scale(0.81 1)" font-size="11.2" fill="#1b1e52" font-weight="normal" text-anchor="middle" class="dr" stroke="#1b1e52">00</text>
<text transform="translate(781.96 521.80) scale(0.82 1)" font-size="11.2" fill="#1b1e52" font-weight="bold" text-anchor="middle" class="d" stroke="#1b1e52">00</text>
<text transform="translate(803.83 521.80) scale(0.82 1)" font-size="11.2" fill="#1b1e52" font-weight="bold" text-anchor="middle" class="d" stroke="#1b1e52">00</text>
<rect x="815.70" y="512.50" width="20.00" height="12.00" fill="#c9a56b" />
<text transform="translate(825.70 521.80) scale(0.81 1)" font-size="11.2" fill="#1b1e52" font-weight="normal" text-anchor="middle" class="dr" stroke="#1b1e52">00</text>
<text transform="translate(847.57 521.80) scale(0.82 1)" font-size="11.2" fill="#1b1e52" font-weight="bold" text-anchor="middle" class="d" stroke="#1b1e52">00</text>
<rect x="859.44" y="512.50" width="20.00" height="12.00" fill="#c5e2f5" />
<text transform="translate(869.44 521.80) scale(0.81 1)" font-size="11.2" fill="#1b1e52" font-weight="normal" text-anchor="middle" class="dr" stroke="#1b1e52">00</text>
<text transform="translate(891.31 521.80) scale(0.82 1)" font-size="11.2" fill="#1b1e52" font-weight="bold" text-anchor="middle" class="d" stroke="#1b1e52">00</text>
<text transform="translate(913.18 521.80) scale(0.82 1)" font-size="11.2" fill="#1b1e52" font-weight="bold" text-anchor="middle" class="d" stroke="#1b1e52">00</text>
<rect x="925.05" y="512.50" width="20.00" height="12.00" fill="#c5e2f5" />
<text transform="translate(935.05 521.80) scale(0.81 1)" font-size="11.2" fill="#1b1e52" font-weight="normal" text-anchor="middle" class="dr" stroke="#1b1e52">00</text>
<rect x="597.00" y="526.75" width="20.00" height="12.00" fill="#dc0f21" />
<text transform="translate(607.00 536.05) scale(0.81 1)" font-size="11.2" fill="#fff" font-weight="normal" text-anchor="middle" class="dr" stroke="#fff">30</text>
<rect x="618.87" y="526.75" width="20.00" height="12.00" fill="#dc0f21" />
<text transform="translate(628.87 536.05) scale(0.81 1)" font-size="11.2" fill="#fff" font-weight="normal" text-anchor="middle" class="dr" stroke="#fff">30</text>
<rect x="640.74" y="526.75" width="20.00" height="12.00" fill="#dc0f21" />
<text transform="translate(650.74 536.05) scale(0.81 1)" font-size="11.2" fill="#fff" font-weight="normal" text-anchor="middle" class="dr" stroke="#fff">30</text>
<rect x="662.61" y="526.75" width="20.00" height="12.00" fill="#dc0f21" />
<text transform="translate(672.61 536.05) scale(0.81 1)" font-size="11.2" fill="#fff" font-weight="normal" text-anchor="middle" class="dr" stroke="#fff">30</text>
<text x="790.30" y="299.90" font-size="9.7" fill="#1f245f" font-weight="normal" text-anchor="start" textLength="199.40" lengthAdjust="spacingAndGlyphs" class="n">Los servicios de las 24:15 y 01:00 sólo realizan la</text>
<text x="783.40" y="309.70" font-size="9.7" fill="#1f245f" font-weight="normal" text-anchor="start" textLength="213.90" lengthAdjust="spacingAndGlyphs" class="n">parada de Estación de Cercanías el miércoles santo.</text>
<text x="170.80" y="581.20" font-size="10.0" fill="#1f245f" font-weight="bold" text-anchor="start" textLength="25.50" lengthAdjust="spacingAndGlyphs" class="n">NOTA:</text>
<text x="199.30" y="581.20" font-size="10.0" fill="#1f245f" font-weight="normal" text-anchor="start" textLength="613.70" lengthAdjust="spacingAndGlyphs" class="n">El horario del servicio Parcial Sevilla-Camas-Castilleja de Guzmán-Urb. Señorío de Guzmán-Valencina continúa prestándose sin modificaciones</text>
<text x="954.70" y="580.80" font-size="10.0" fill="#1f245f" font-weight="bold" text-anchor="start" textLength="219.80" lengthAdjust="spacingAndGlyphs" class="n">Negrita: Realiza parada en Est. Cercanías Salteras</text>
<rect x="1021.60" y="109.25" width="21.20" height="12.50" fill="#dc0f21" />
<text x="1021.30" y="138.00" font-size="10.0" fill="#1f245f" font-weight="bold" text-anchor="start" textLength="125.70" lengthAdjust="spacingAndGlyphs" class="n">Servicios especiales Semana</text>
<text x="1021.30" y="149.50" font-size="10.0" fill="#1f245f" font-weight="bold" text-anchor="start" textLength="28.20" lengthAdjust="spacingAndGlyphs" class="n">Santa:</text>
<text x="1052.50" y="149.50" font-size="10.0" fill="#1f245f" font-weight="normal" text-anchor="start" textLength="71.75" lengthAdjust="spacingAndGlyphs" class="n">Sevilla - Camas -</text>
<text x="1021.30" y="161.25" font-size="10.0" fill="#1f245f" font-weight="normal" text-anchor="start" textLength="131.70" lengthAdjust="spacingAndGlyphs" class="n">Castilleja de Guzmán - Señorío</text>
<text x="1021.30" y="172.50" font-size="10.0" fill="#1f245f" font-weight="normal" text-anchor="start" textLength="119.95" lengthAdjust="spacingAndGlyphs" class="n">de Guzmán - Valencina de la</text>
<text x="1021.30" y="184.25" font-size="10.0" fill="#1f245f" font-weight="normal" text-anchor="start" textLength="136.95" lengthAdjust="spacingAndGlyphs" class="n">Concepción - Salteras - Olivares</text>
<text x="1021.30" y="195.50" font-size="10.0" fill="#1f245f" font-weight="normal" text-anchor="start" textLength="88.70" lengthAdjust="spacingAndGlyphs" class="n">- Albaida del Aljarafe</text>
<rect x="1021.60" y="207.50" width="21.20" height="12.50" fill="#ffe600" />
<text x="1021.30" y="233.75" font-size="10.0" fill="#1f245f" font-weight="normal" text-anchor="start" textLength="87.70" lengthAdjust="spacingAndGlyphs" class="n">Con parada en Gines</text>
<rect x="1021.60" y="246.25" width="21.20" height="12.00" fill="#f8b133" />
<text x="1021.30" y="270.75" font-size="10.0" fill="#1f245f" font-weight="normal" text-anchor="start" textLength="125.70" lengthAdjust="spacingAndGlyphs" class="n">Albaida - Olivares - Salteras -</text>
<text x="1021.30" y="282.00" font-size="10.0" fill="#1f245f" font-weight="normal" text-anchor="start" textLength="132.45" lengthAdjust="spacingAndGlyphs" class="n">Camas - (solo paradas de Caño</text>
<text x="1021.30" y="293.75" font-size="10.0" fill="#1f245f" font-weight="normal" text-anchor="start" textLength="130.70" lengthAdjust="spacingAndGlyphs" class="n">Ronco, Ntra. Sra. Dolores, Pza.</text>
<text x="1021.30" y="305.00" font-size="10.0" fill="#1f245f" font-weight="normal" text-anchor="start" textLength="138.70" lengthAdjust="spacingAndGlyphs" class="n">Almendro, Bda. Extremeña, Bda.</text>
<text x="1021.30" y="316.25" font-size="10.0" fill="#1f245f" font-weight="normal" text-anchor="start" textLength="121.70" lengthAdjust="spacingAndGlyphs" class="n">El Chato y Pañoleta) - Sevilla</text>
<rect x="1021.60" y="328.75" width="21.20" height="12.00" fill="#c5e2f5" />
<text x="1021.30" y="355.00" font-size="10.0" fill="#1f245f" font-weight="normal" text-anchor="start" textLength="117.45" lengthAdjust="spacingAndGlyphs" class="n">Con parada en Urb. Señorío</text>
<text x="1021.30" y="365.75" font-size="10.0" fill="#1f245f" font-weight="normal" text-anchor="start" textLength="46.70" lengthAdjust="spacingAndGlyphs" class="n">de Guzmán</text>
<rect x="1021.60" y="376.25" width="21.20" height="12.00" fill="#94c11f" />
<text x="1021.30" y="402.00" font-size="10.0" fill="#1f245f" font-weight="normal" text-anchor="start" textLength="113.70" lengthAdjust="spacingAndGlyphs" class="n">Camas (Apeadero) - Sevilla</text>
<text x="1021.30" y="413.25" font-size="10.0" fill="#1f245f" font-weight="normal" text-anchor="start" textLength="107.45" lengthAdjust="spacingAndGlyphs" class="n">por plataforma reservada</text>
<rect x="1021.60" y="424.50" width="21.20" height="11.75" fill="#169fe0" />
<text x="1021.30" y="448.75" font-size="10.0" fill="#1f245f" font-weight="normal" text-anchor="start" textLength="114.95" lengthAdjust="spacingAndGlyphs" class="n">Sevilla - Camas (Apeadero)</text>
<rect x="1021.60" y="460.75" width="21.20" height="11.75" fill="#c9a56b" />
<text x="1021.30" y="486.25" font-size="10.0" fill="#1f245f" font-weight="normal" text-anchor="start" textLength="142.45" lengthAdjust="spacingAndGlyphs" class="n">Con parada en Gines y Señorío de</text>
<text x="1021.30" y="497.50" font-size="10.0" fill="#1f245f" font-weight="normal" text-anchor="start" textLength="142.95" lengthAdjust="spacingAndGlyphs" class="n">Guzmán (Viernes, sábados, dom y</text>
<text x="1021.30" y="508.20" font-size="10.0" fill="#1f245f" font-weight="normal" text-anchor="start" textLength="18.20" lengthAdjust="spacingAndGlyphs" class="n">fest)</text>
<rect x="1021.60" y="521.20" width="21.20" height="11.90" fill="#a5105e" />
<text x="1021.30" y="547.20" font-size="10.0" fill="#1f245f" font-weight="normal" text-anchor="start" textLength="150.60" lengthAdjust="spacingAndGlyphs" class="n">Sevilla - Camas (todas las paradas)</text>
<text x="1021.30" y="558.40" font-size="10.0" fill="#1f245f" font-weight="normal" text-anchor="start" textLength="126.30" lengthAdjust="spacingAndGlyphs" class="n">- Salteras - Olivares - Albaida</text>
</svg>
</body></html>
